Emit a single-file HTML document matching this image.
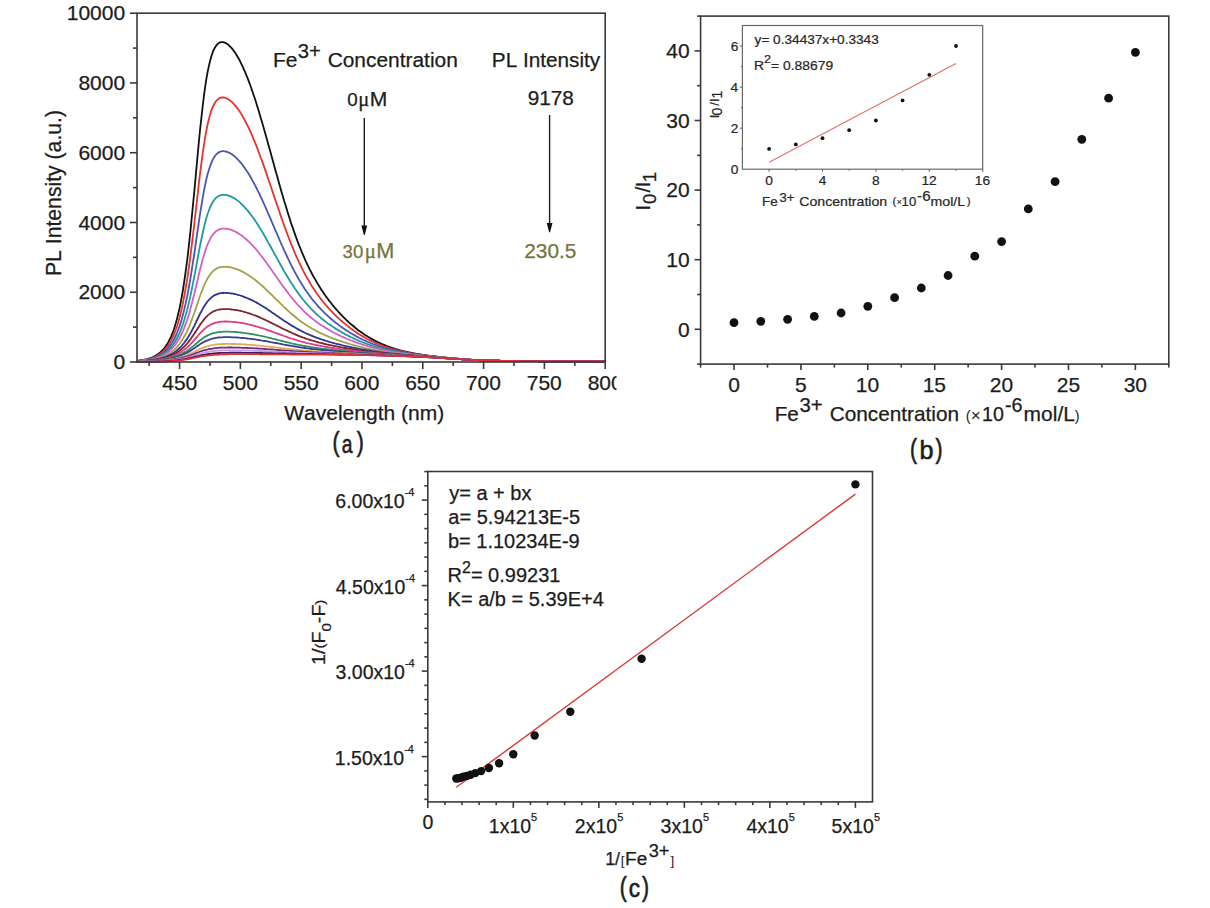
<!DOCTYPE html>
<html><head><meta charset="utf-8"><style>
html,body{margin:0;padding:0;background:#fff;width:1210px;height:908px;overflow:hidden}
svg{display:block}
text{font-family:"Liberation Sans",sans-serif;font-kerning:none}
</style></head><body>
<svg width="1210" height="908" viewBox="0 0 1210 908">
<rect width="1210" height="908" fill="#fff"/>
<defs><clipPath id="clipA"><rect x="0" y="0" width="616.5" height="470"/></clipPath></defs><g clip-path="url(#clipA)">
<g fill="none" stroke-width="1.8" stroke-linejoin="round">
<polyline points="137.0,360.8 138.2,360.7 139.4,360.5 140.6,360.4 141.9,360.2 143.1,360.0 144.3,359.7 145.5,359.5 146.7,359.2 147.9,358.8 149.2,358.5 150.4,358.0 151.6,357.6 152.8,357.1 154.0,356.5 155.2,355.9 156.5,355.1 157.7,354.3 158.9,353.5 160.1,352.5 161.3,351.4 162.5,350.1 163.8,348.8 165.0,347.3 166.2,345.6 167.4,343.7 168.6,341.6 169.8,339.2 171.1,336.6 172.3,333.7 173.5,330.5 174.7,326.8 175.9,322.8 177.1,318.4 178.3,313.5 179.6,308.1 180.8,302.1 182.0,295.5 183.2,288.3 184.4,280.4 185.6,271.8 186.9,262.5 188.1,252.5 189.3,241.7 190.5,230.3 191.7,218.2 192.9,205.7 194.2,192.7 195.4,179.6 196.6,166.3 197.8,153.3 199.0,140.5 200.2,128.3 201.5,116.8 202.7,106.0 203.9,96.2 205.1,87.3 206.3,79.4 207.5,72.5 208.8,66.4 210.0,61.3 211.2,56.9 212.4,53.2 213.6,50.2 214.8,47.8 216.0,45.9 217.3,44.4 218.5,43.3 219.7,42.6 220.9,42.2 222.1,42.1 223.3,42.2 224.6,42.6 225.8,43.1 227.0,43.8 228.2,44.7 229.4,45.8 230.6,47.0 231.9,48.4 233.1,49.9 234.3,51.6 235.5,53.3 236.7,55.3 237.9,57.3 239.2,59.5 240.4,61.9 241.6,64.3 242.8,66.9 244.0,69.6 245.2,72.4 246.4,75.3 247.7,78.4 248.9,81.6 250.1,84.8 251.3,88.2 252.5,91.7 253.7,95.3 255.0,99.0 256.2,102.8 257.4,106.7 258.6,110.6 259.8,114.7 261.0,118.8 262.3,122.9 263.5,127.2 264.7,131.4 265.9,135.7 267.1,140.1 268.3,144.5 269.6,148.9 270.8,153.3 272.0,157.7 273.2,162.1 274.4,166.5 275.6,170.9 276.9,175.3 278.1,179.7 279.3,184.0 280.5,188.2 281.7,192.5 282.9,196.6 284.1,200.8 285.4,204.8 286.6,208.8 287.8,212.7 289.0,216.6 290.2,220.3 291.4,224.0 292.7,227.6 293.9,231.1 295.1,234.6 296.3,237.9 297.5,241.2 298.7,244.4 300.0,247.5 301.2,250.5 302.4,253.4 303.6,256.2 304.8,259.0 306.0,261.7 307.3,264.3 308.5,266.8 309.7,269.3 310.9,271.7 312.1,274.0 313.3,276.2 314.6,278.4 315.8,280.5 317.0,282.6 318.2,284.6 319.4,286.6 320.6,288.5 321.8,290.4 323.1,292.2 324.3,294.0 325.5,295.7 326.7,297.4 327.9,299.0 329.1,300.6 330.4,302.2 331.6,303.7 332.8,305.3 334.0,306.7 335.2,308.2 336.4,309.6 337.7,311.0 338.9,312.3 340.1,313.6 341.3,314.9 342.5,316.2 343.7,317.4 345.0,318.6 346.2,319.8 347.4,320.9 348.6,322.1 349.8,323.2 351.0,324.2 352.3,325.3 353.5,326.3 354.7,327.3 355.9,328.3 357.1,329.2 358.3,330.2 359.5,331.1 360.8,332.0 362.0,332.8 363.2,333.6 364.4,334.5 365.6,335.3 366.8,336.0 368.1,336.8 369.3,337.5 370.5,338.2 371.7,338.9 372.9,339.6 374.1,340.2 375.4,340.9 376.6,341.5 377.8,342.1 379.0,342.7 380.2,343.2 381.4,343.8 382.7,344.3 383.9,344.8 385.1,345.3 386.3,345.8 387.5,346.3 388.7,346.7 389.9,347.2 391.2,347.6 392.4,348.0 393.6,348.4 394.8,348.8 396.0,349.1 397.2,349.5 398.5,349.8 399.7,350.2 400.9,350.5 402.1,350.8 403.3,351.1 404.5,351.4 405.8,351.7 407.0,351.9 408.2,352.2 409.4,352.5 410.6,352.7 411.8,352.9 413.1,353.2 414.3,353.4 415.5,353.6 416.7,353.8 417.9,354.0 419.1,354.2 420.4,354.4 421.6,354.6 422.8,354.8 424.0,354.9 425.2,355.1 426.4,355.3 427.6,355.5 428.9,355.6 430.1,355.8 431.3,355.9 432.5,356.1 433.7,356.2 434.9,356.4 436.2,356.5 437.4,356.7 438.6,356.8 439.8,357.0 441.0,357.1 442.2,357.2 443.5,357.4 444.7,357.5 445.9,357.6 447.1,357.7 448.3,357.9 449.5,358.0 450.8,358.1 452.0,358.2 453.2,358.3 454.4,358.4 455.6,358.5 456.8,358.6 458.1,358.7 459.3,358.8 460.5,358.9 461.7,359.0 462.9,359.1 464.1,359.2 465.3,359.3 466.6,359.4 467.8,359.5 469.0,359.6 470.2,359.6 471.4,359.7 472.6,359.8 473.9,359.9 475.1,360.0 476.3,360.0 477.5,360.1 478.7,360.2 479.9,360.2 481.2,360.3 482.4,360.3 483.6,360.3 484.8,360.4 486.0,360.4 487.2,360.4 488.5,360.5 489.7,360.5 490.9,360.5 492.1,360.6 493.3,360.6 494.5,360.6 495.8,360.7 497.0,360.7 498.2,360.7 499.4,360.7 500.6,360.8 501.8,360.8 503.0,360.8 504.3,360.8 505.5,360.8 506.7,360.9 507.9,360.9 509.1,360.9 510.3,360.9 511.6,360.9 512.8,361.0 514.0,361.0 515.2,361.0 516.4,361.0 517.6,361.0 518.9,361.1 520.1,361.1 521.3,361.1 522.5,361.1 523.7,361.1 524.9,361.1 526.2,361.1 527.4,361.1 528.6,361.2 529.8,361.2 531.0,361.2 532.2,361.2 533.4,361.2 534.7,361.2 535.9,361.2 537.1,361.2 538.3,361.2 539.5,361.3 540.7,361.3 542.0,361.3 543.2,361.3 544.4,361.3 545.6,361.3 546.8,361.3 548.0,361.3 549.3,361.3 550.5,361.3 551.7,361.3 552.9,361.3 554.1,361.3 555.3,361.3 556.6,361.3 557.8,361.3 559.0,361.4 560.2,361.4 561.4,361.4 562.6,361.4 563.9,361.4 565.1,361.4 566.3,361.4 567.5,361.4 568.7,361.4 569.9,361.4 571.1,361.4 572.4,361.4 573.6,361.4 574.8,361.4 576.0,361.4 577.2,361.4 578.4,361.4 579.7,361.4 580.9,361.4 582.1,361.4 583.3,361.4 584.5,361.4 585.7,361.4 587.0,361.4 588.2,361.4 589.4,361.5 590.6,361.5 591.8,361.5 593.0,361.5 594.3,361.5 595.5,361.5 596.7,361.5 597.9,361.5 599.1,361.5 600.3,361.5 601.6,361.5 602.8,361.5 604.0,361.5 605.2,361.5" stroke="#111111"/>
<polyline points="137.0,360.9 138.2,360.8 139.4,360.7 140.6,360.5 141.9,360.3 143.1,360.2 144.3,360.0 145.5,359.7 146.7,359.5 147.9,359.2 149.2,358.9 150.4,358.5 151.6,358.1 152.8,357.7 154.0,357.2 155.2,356.6 156.5,356.0 157.7,355.3 158.9,354.6 160.1,353.7 161.3,352.8 162.5,351.8 163.8,350.7 165.0,349.4 166.2,348.0 167.4,346.4 168.6,344.7 169.8,342.8 171.1,340.6 172.3,338.2 173.5,335.6 174.7,332.7 175.9,329.4 177.1,325.8 178.3,321.9 179.6,317.5 180.8,312.7 182.0,307.4 183.2,301.6 184.4,295.3 185.6,288.5 186.9,281.1 188.1,273.0 189.3,264.4 190.5,255.3 191.7,245.6 192.9,235.5 194.2,225.0 195.4,214.3 196.6,203.5 197.8,192.8 199.0,182.3 200.2,172.1 201.5,162.5 202.7,153.4 203.9,145.1 205.1,137.6 206.3,130.8 207.5,124.8 208.8,119.5 210.0,115.0 211.2,111.1 212.4,107.9 213.6,105.2 214.8,103.0 216.0,101.2 217.3,99.9 218.5,98.8 219.7,98.1 220.9,97.7 222.1,97.5 223.3,97.5 224.6,97.7 225.8,98.0 227.0,98.6 228.2,99.2 229.4,100.0 230.6,101.0 231.9,102.0 233.1,103.2 234.3,104.5 235.5,105.9 236.7,107.4 237.9,109.0 239.2,110.7 240.4,112.6 241.6,114.5 242.8,116.6 244.0,118.7 245.2,121.0 246.4,123.3 247.7,125.8 248.9,128.3 250.1,130.9 251.3,133.6 252.5,136.5 253.7,139.3 255.0,142.3 256.2,145.4 257.4,148.5 258.6,151.7 259.8,155.0 261.0,158.3 262.3,161.6 263.5,165.1 264.7,168.5 265.9,172.1 267.1,175.6 268.3,179.2 269.6,182.8 270.8,186.4 272.0,190.0 273.2,193.6 274.4,197.2 275.6,200.8 276.9,204.4 278.1,208.0 279.3,211.5 280.5,215.1 281.7,218.6 282.9,222.0 284.1,225.4 285.4,228.8 286.6,232.1 287.8,235.3 289.0,238.5 290.2,241.6 291.4,244.7 292.7,247.7 293.9,250.6 295.1,253.5 296.3,256.3 297.5,259.0 298.7,261.6 300.0,264.2 301.2,266.7 302.4,269.2 303.6,271.6 304.8,273.9 306.0,276.1 307.3,278.3 308.5,280.4 309.7,282.5 310.9,284.5 312.1,286.4 313.3,288.3 314.6,290.1 315.8,291.9 317.0,293.7 318.2,295.3 319.4,297.0 320.6,298.6 321.8,300.2 323.1,301.7 324.3,303.2 325.5,304.6 326.7,306.0 327.9,307.4 329.1,308.8 330.4,310.1 331.6,311.4 332.8,312.7 334.0,313.9 335.2,315.1 336.4,316.3 337.7,317.5 338.9,318.6 340.1,319.7 341.3,320.8 342.5,321.8 343.7,322.9 345.0,323.9 346.2,324.9 347.4,325.9 348.6,326.8 349.8,327.8 351.0,328.7 352.3,329.6 353.5,330.4 354.7,331.3 355.9,332.1 357.1,332.9 358.3,333.7 359.5,334.5 360.8,335.2 362.0,335.9 363.2,336.6 364.4,337.3 365.6,338.0 366.8,338.7 368.1,339.3 369.3,339.9 370.5,340.6 371.7,341.1 372.9,341.7 374.1,342.3 375.4,342.8 376.6,343.4 377.8,343.9 379.0,344.4 380.2,344.9 381.4,345.3 382.7,345.8 383.9,346.3 385.1,346.7 386.3,347.1 387.5,347.5 388.7,347.9 389.9,348.3 391.2,348.6 392.4,349.0 393.6,349.3 394.8,349.7 396.0,350.0 397.2,350.3 398.5,350.6 399.7,350.9 400.9,351.2 402.1,351.5 403.3,351.7 404.5,352.0 405.8,352.2 407.0,352.5 408.2,352.7 409.4,352.9 410.6,353.2 411.8,353.4 413.1,353.6 414.3,353.8 415.5,354.0 416.7,354.2 417.9,354.3 419.1,354.5 420.4,354.7 421.6,354.9 422.8,355.0 424.0,355.2 425.2,355.3 426.4,355.5 427.6,355.6 428.9,355.8 430.1,356.0 431.3,356.1 432.5,356.2 433.7,356.4 434.9,356.5 436.2,356.7 437.4,356.8 438.6,356.9 439.8,357.1 441.0,357.2 442.2,357.3 443.5,357.5 444.7,357.6 445.9,357.7 447.1,357.8 448.3,357.9 449.5,358.0 450.8,358.1 452.0,358.2 453.2,358.3 454.4,358.4 455.6,358.5 456.8,358.6 458.1,358.7 459.3,358.8 460.5,358.9 461.7,359.0 462.9,359.1 464.1,359.2 465.3,359.3 466.6,359.4 467.8,359.5 469.0,359.6 470.2,359.7 471.4,359.7 472.6,359.8 473.9,359.9 475.1,360.0 476.3,360.0 477.5,360.1 478.7,360.2 479.9,360.2 481.2,360.3 482.4,360.3 483.6,360.3 484.8,360.4 486.0,360.4 487.2,360.4 488.5,360.5 489.7,360.5 490.9,360.5 492.1,360.6 493.3,360.6 494.5,360.6 495.8,360.7 497.0,360.7 498.2,360.7 499.4,360.7 500.6,360.8 501.8,360.8 503.0,360.8 504.3,360.8 505.5,360.8 506.7,360.9 507.9,360.9 509.1,360.9 510.3,360.9 511.6,360.9 512.8,361.0 514.0,361.0 515.2,361.0 516.4,361.0 517.6,361.0 518.9,361.1 520.1,361.1 521.3,361.1 522.5,361.1 523.7,361.1 524.9,361.1 526.2,361.1 527.4,361.1 528.6,361.2 529.8,361.2 531.0,361.2 532.2,361.2 533.4,361.2 534.7,361.2 535.9,361.2 537.1,361.2 538.3,361.2 539.5,361.3 540.7,361.3 542.0,361.3 543.2,361.3 544.4,361.3 545.6,361.3 546.8,361.3 548.0,361.3 549.3,361.3 550.5,361.3 551.7,361.3 552.9,361.3 554.1,361.3 555.3,361.3 556.6,361.3 557.8,361.3 559.0,361.4 560.2,361.4 561.4,361.4 562.6,361.4 563.9,361.4 565.1,361.4 566.3,361.4 567.5,361.4 568.7,361.4 569.9,361.4 571.1,361.4 572.4,361.4 573.6,361.4 574.8,361.4 576.0,361.4 577.2,361.4 578.4,361.4 579.7,361.4 580.9,361.4 582.1,361.4 583.3,361.4 584.5,361.4 585.7,361.4 587.0,361.4 588.2,361.4 589.4,361.5 590.6,361.5 591.8,361.5 593.0,361.5 594.3,361.5 595.5,361.5 596.7,361.5 597.9,361.5 599.1,361.5 600.3,361.5 601.6,361.5 602.8,361.5 604.0,361.5 605.2,361.5" stroke="#e3342f"/>
<polyline points="137.0,361.0 138.2,360.9 139.4,360.8 140.6,360.7 141.9,360.5 143.1,360.4 144.3,360.2 145.5,360.0 146.7,359.8 147.9,359.5 149.2,359.2 150.4,358.9 151.6,358.6 152.8,358.2 154.0,357.8 155.2,357.3 156.5,356.8 157.7,356.3 158.9,355.6 160.1,355.0 161.3,354.2 162.5,353.4 163.8,352.4 165.0,351.4 166.2,350.3 167.4,349.0 168.6,347.6 169.8,346.1 171.1,344.4 172.3,342.4 173.5,340.3 174.7,338.0 175.9,335.5 177.1,332.6 178.3,329.5 179.6,326.1 180.8,322.4 182.0,318.3 183.2,313.8 184.4,308.9 185.6,303.6 186.9,297.9 188.1,291.7 189.3,285.0 190.5,278.0 191.7,270.5 192.9,262.6 194.2,254.5 195.4,246.2 196.6,237.7 197.8,229.3 199.0,221.0 200.2,212.9 201.5,205.2 202.7,197.9 203.9,191.2 205.1,185.0 206.3,179.5 207.5,174.5 208.8,170.2 210.0,166.4 211.2,163.2 212.4,160.4 213.6,158.1 214.8,156.2 216.0,154.7 217.3,153.5 218.5,152.6 219.7,151.9 220.9,151.5 222.1,151.2 223.3,151.2 224.6,151.3 225.8,151.5 227.0,151.8 228.2,152.3 229.4,152.9 230.6,153.5 231.9,154.3 233.1,155.2 234.3,156.1 235.5,157.2 236.7,158.3 237.9,159.6 239.2,160.9 240.4,162.3 241.6,163.7 242.8,165.3 244.0,166.9 245.2,168.7 246.4,170.5 247.7,172.3 248.9,174.3 250.1,176.3 251.3,178.4 252.5,180.6 253.7,182.8 255.0,185.1 256.2,187.5 257.4,189.9 258.6,192.4 259.8,194.9 261.0,197.5 262.3,200.1 263.5,202.8 264.7,205.5 265.9,208.2 267.1,211.0 268.3,213.8 269.6,216.6 270.8,219.4 272.0,222.3 273.2,225.1 274.4,227.9 275.6,230.8 276.9,233.6 278.1,236.4 279.3,239.3 280.5,242.0 281.7,244.8 282.9,247.5 284.1,250.2 285.4,252.9 286.6,255.5 287.8,258.1 289.0,260.6 290.2,263.1 291.4,265.6 292.7,268.0 293.9,270.3 295.1,272.6 296.3,274.8 297.5,277.0 298.7,279.1 300.0,281.2 301.2,283.2 302.4,285.2 303.6,287.1 304.8,289.0 306.0,290.8 307.3,292.5 308.5,294.2 309.7,295.9 310.9,297.5 312.1,299.1 313.3,300.6 314.6,302.1 315.8,303.5 317.0,304.9 318.2,306.3 319.4,307.6 320.6,308.9 321.8,310.2 323.1,311.4 324.3,312.6 325.5,313.8 326.7,314.9 327.9,316.0 329.1,317.1 330.4,318.2 331.6,319.2 332.8,320.3 334.0,321.3 335.2,322.2 336.4,323.2 337.7,324.1 338.9,325.1 340.1,326.0 341.3,326.8 342.5,327.7 343.7,328.5 345.0,329.4 346.2,330.2 347.4,331.0 348.6,331.8 349.8,332.5 351.0,333.3 352.3,334.0 353.5,334.7 354.7,335.4 355.9,336.1 357.1,336.7 358.3,337.4 359.5,338.0 360.8,338.6 362.0,339.2 363.2,339.8 364.4,340.3 365.6,340.9 366.8,341.4 368.1,342.0 369.3,342.5 370.5,343.0 371.7,343.5 372.9,344.0 374.1,344.4 375.4,344.9 376.6,345.3 377.8,345.8 379.0,346.2 380.2,346.6 381.4,347.0 382.7,347.4 383.9,347.8 385.1,348.1 386.3,348.5 387.5,348.8 388.7,349.1 389.9,349.5 391.2,349.8 392.4,350.1 393.6,350.4 394.8,350.7 396.0,350.9 397.2,351.2 398.5,351.5 399.7,351.7 400.9,351.9 402.1,352.2 403.3,352.4 404.5,352.6 405.8,352.8 407.0,353.1 408.2,353.3 409.4,353.4 410.6,353.6 411.8,353.8 413.1,354.0 414.3,354.2 415.5,354.4 416.7,354.5 417.9,354.7 419.1,354.8 420.4,355.0 421.6,355.1 422.8,355.3 424.0,355.4 425.2,355.6 426.4,355.7 427.6,355.9 428.9,356.0 430.1,356.1 431.3,356.3 432.5,356.4 433.7,356.5 434.9,356.7 436.2,356.8 437.4,356.9 438.6,357.1 439.8,357.2 441.0,357.3 442.2,357.4 443.5,357.5 444.7,357.7 445.9,357.8 447.1,357.9 448.3,358.0 449.5,358.1 450.8,358.2 452.0,358.3 453.2,358.4 454.4,358.5 455.6,358.6 456.8,358.7 458.1,358.8 459.3,358.9 460.5,359.0 461.7,359.1 462.9,359.1 464.1,359.2 465.3,359.3 466.6,359.4 467.8,359.5 469.0,359.6 470.2,359.7 471.4,359.8 472.6,359.8 473.9,359.9 475.1,360.0 476.3,360.1 477.5,360.1 478.7,360.2 479.9,360.2 481.2,360.3 482.4,360.3 483.6,360.4 484.8,360.4 486.0,360.4 487.2,360.5 488.5,360.5 489.7,360.5 490.9,360.5 492.1,360.6 493.3,360.6 494.5,360.6 495.8,360.7 497.0,360.7 498.2,360.7 499.4,360.7 500.6,360.8 501.8,360.8 503.0,360.8 504.3,360.8 505.5,360.8 506.7,360.9 507.9,360.9 509.1,360.9 510.3,360.9 511.6,360.9 512.8,361.0 514.0,361.0 515.2,361.0 516.4,361.0 517.6,361.0 518.9,361.1 520.1,361.1 521.3,361.1 522.5,361.1 523.7,361.1 524.9,361.1 526.2,361.1 527.4,361.1 528.6,361.2 529.8,361.2 531.0,361.2 532.2,361.2 533.4,361.2 534.7,361.2 535.9,361.2 537.1,361.2 538.3,361.2 539.5,361.3 540.7,361.3 542.0,361.3 543.2,361.3 544.4,361.3 545.6,361.3 546.8,361.3 548.0,361.3 549.3,361.3 550.5,361.3 551.7,361.3 552.9,361.3 554.1,361.3 555.3,361.3 556.6,361.3 557.8,361.3 559.0,361.4 560.2,361.4 561.4,361.4 562.6,361.4 563.9,361.4 565.1,361.4 566.3,361.4 567.5,361.4 568.7,361.4 569.9,361.4 571.1,361.4 572.4,361.4 573.6,361.4 574.8,361.4 576.0,361.4 577.2,361.4 578.4,361.4 579.7,361.4 580.9,361.4 582.1,361.4 583.3,361.4 584.5,361.4 585.7,361.4 587.0,361.4 588.2,361.4 589.4,361.5 590.6,361.5 591.8,361.5 593.0,361.5 594.3,361.5 595.5,361.5 596.7,361.5 597.9,361.5 599.1,361.5 600.3,361.5 601.6,361.5 602.8,361.5 604.0,361.5 605.2,361.5" stroke="#4a56b5"/>
<polyline points="137.0,361.1 138.2,361.0 139.4,360.9 140.6,360.8 141.9,360.7 143.1,360.5 144.3,360.4 145.5,360.2 146.7,360.0 147.9,359.8 149.2,359.5 150.4,359.3 151.6,359.0 152.8,358.7 154.0,358.3 155.2,357.9 156.5,357.5 157.7,357.0 158.9,356.5 160.1,356.0 161.3,355.3 162.5,354.6 163.8,353.9 165.0,353.0 166.2,352.1 167.4,351.1 168.6,350.0 169.8,348.7 171.1,347.3 172.3,345.8 173.5,344.1 174.7,342.3 175.9,340.2 177.1,338.0 178.3,335.5 179.6,332.8 180.8,329.9 182.0,326.7 183.2,323.2 184.4,319.4 185.6,315.3 186.9,310.9 188.1,306.1 189.3,300.9 190.5,295.5 191.7,289.7 192.9,283.6 194.2,277.3 195.4,270.8 196.6,264.3 197.8,257.7 199.0,251.2 200.2,244.8 201.5,238.7 202.7,233.0 203.9,227.6 205.1,222.7 206.3,218.2 207.5,214.2 208.8,210.7 210.0,207.6 211.2,205.0 212.4,202.7 213.6,200.8 214.8,199.2 216.0,197.9 217.3,196.9 218.5,196.1 219.7,195.5 220.9,195.1 222.1,194.9 223.3,194.8 224.6,194.8 225.8,194.9 227.0,195.2 228.2,195.5 229.4,195.9 230.6,196.4 231.9,197.0 233.1,197.6 234.3,198.3 235.5,199.1 236.7,200.0 237.9,200.9 239.2,201.9 240.4,202.9 241.6,204.1 242.8,205.2 244.0,206.5 245.2,207.8 246.4,209.2 247.7,210.6 248.9,212.1 250.1,213.7 251.3,215.3 252.5,216.9 253.7,218.6 255.0,220.4 256.2,222.2 257.4,224.1 258.6,226.0 259.8,227.9 261.0,229.9 262.3,232.0 263.5,234.0 264.7,236.1 265.9,238.3 267.1,240.4 268.3,242.6 269.6,244.8 270.8,247.0 272.0,249.2 273.2,251.4 274.4,253.6 275.6,255.8 276.9,258.1 278.1,260.3 279.3,262.5 280.5,264.7 281.7,266.8 282.9,269.0 284.1,271.1 285.4,273.2 286.6,275.3 287.8,277.3 289.0,279.3 290.2,281.3 291.4,283.2 292.7,285.1 293.9,286.9 295.1,288.8 296.3,290.5 297.5,292.3 298.7,294.0 300.0,295.6 301.2,297.2 302.4,298.8 303.6,300.3 304.8,301.8 306.0,303.2 307.3,304.6 308.5,306.0 309.7,307.3 310.9,308.6 312.1,309.8 313.3,311.0 314.6,312.2 315.8,313.4 317.0,314.5 318.2,315.6 319.4,316.6 320.6,317.7 321.8,318.7 323.1,319.7 324.3,320.6 325.5,321.6 326.7,322.5 327.9,323.4 329.1,324.2 330.4,325.1 331.6,325.9 332.8,326.8 334.0,327.6 335.2,328.4 336.4,329.1 337.7,329.9 338.9,330.6 340.1,331.3 341.3,332.1 342.5,332.7 343.7,333.4 345.0,334.1 346.2,334.7 347.4,335.4 348.6,336.0 349.8,336.6 351.0,337.2 352.3,337.8 353.5,338.4 354.7,338.9 355.9,339.5 357.1,340.0 358.3,340.5 359.5,341.1 360.8,341.6 362.0,342.0 363.2,342.5 364.4,343.0 365.6,343.4 366.8,343.9 368.1,344.3 369.3,344.7 370.5,345.2 371.7,345.6 372.9,346.0 374.1,346.3 375.4,346.7 376.6,347.1 377.8,347.4 379.0,347.8 380.2,348.1 381.4,348.5 382.7,348.8 383.9,349.1 385.1,349.4 386.3,349.7 387.5,350.0 388.7,350.3 389.9,350.5 391.2,350.8 392.4,351.0 393.6,351.3 394.8,351.5 396.0,351.8 397.2,352.0 398.5,352.2 399.7,352.4 400.9,352.6 402.1,352.8 403.3,353.0 404.5,353.2 405.8,353.4 407.0,353.6 408.2,353.7 409.4,353.9 410.6,354.1 411.8,354.2 413.1,354.4 414.3,354.6 415.5,354.7 416.7,354.9 417.9,355.0 419.1,355.1 420.4,355.3 421.6,355.4 422.8,355.5 424.0,355.7 425.2,355.8 426.4,355.9 427.6,356.1 428.9,356.2 430.1,356.3 431.3,356.4 432.5,356.6 433.7,356.7 434.9,356.8 436.2,356.9 437.4,357.1 438.6,357.2 439.8,357.3 441.0,357.4 442.2,357.5 443.5,357.6 444.7,357.7 445.9,357.9 447.1,358.0 448.3,358.1 449.5,358.2 450.8,358.3 452.0,358.3 453.2,358.4 454.4,358.5 455.6,358.6 456.8,358.7 458.1,358.8 459.3,358.9 460.5,359.0 461.7,359.1 462.9,359.2 464.1,359.3 465.3,359.4 466.6,359.4 467.8,359.5 469.0,359.6 470.2,359.7 471.4,359.8 472.6,359.9 473.9,359.9 475.1,360.0 476.3,360.1 477.5,360.1 478.7,360.2 479.9,360.2 481.2,360.3 482.4,360.3 483.6,360.4 484.8,360.4 486.0,360.4 487.2,360.5 488.5,360.5 489.7,360.5 490.9,360.6 492.1,360.6 493.3,360.6 494.5,360.6 495.8,360.7 497.0,360.7 498.2,360.7 499.4,360.7 500.6,360.8 501.8,360.8 503.0,360.8 504.3,360.8 505.5,360.9 506.7,360.9 507.9,360.9 509.1,360.9 510.3,360.9 511.6,360.9 512.8,361.0 514.0,361.0 515.2,361.0 516.4,361.0 517.6,361.0 518.9,361.1 520.1,361.1 521.3,361.1 522.5,361.1 523.7,361.1 524.9,361.1 526.2,361.1 527.4,361.1 528.6,361.2 529.8,361.2 531.0,361.2 532.2,361.2 533.4,361.2 534.7,361.2 535.9,361.2 537.1,361.2 538.3,361.2 539.5,361.3 540.7,361.3 542.0,361.3 543.2,361.3 544.4,361.3 545.6,361.3 546.8,361.3 548.0,361.3 549.3,361.3 550.5,361.3 551.7,361.3 552.9,361.3 554.1,361.3 555.3,361.3 556.6,361.3 557.8,361.3 559.0,361.4 560.2,361.4 561.4,361.4 562.6,361.4 563.9,361.4 565.1,361.4 566.3,361.4 567.5,361.4 568.7,361.4 569.9,361.4 571.1,361.4 572.4,361.4 573.6,361.4 574.8,361.4 576.0,361.4 577.2,361.4 578.4,361.4 579.7,361.4 580.9,361.4 582.1,361.4 583.3,361.4 584.5,361.4 585.7,361.4 587.0,361.4 588.2,361.4 589.4,361.5 590.6,361.5 591.8,361.5 593.0,361.5 594.3,361.5 595.5,361.5 596.7,361.5 597.9,361.5 599.1,361.5 600.3,361.5 601.6,361.5 602.8,361.5 604.0,361.5 605.2,361.5" stroke="#1f9a9a"/>
<polyline points="137.0,361.2 138.2,361.1 139.4,361.0 140.6,360.9 141.9,360.8 143.1,360.7 144.3,360.5 145.5,360.4 146.7,360.2 147.9,360.0 149.2,359.8 150.4,359.6 151.6,359.3 152.8,359.1 154.0,358.8 155.2,358.4 156.5,358.1 157.7,357.7 158.9,357.2 160.1,356.8 161.3,356.2 162.5,355.6 163.8,355.0 165.0,354.3 166.2,353.6 167.4,352.7 168.6,351.8 169.8,350.8 171.1,349.6 172.3,348.4 173.5,347.0 174.7,345.5 175.9,343.9 177.1,342.1 178.3,340.1 179.6,338.0 180.8,335.7 182.0,333.1 183.2,330.4 184.4,327.4 185.6,324.1 186.9,320.7 188.1,316.9 189.3,312.9 190.5,308.6 191.7,304.1 192.9,299.3 194.2,294.4 195.4,289.3 196.6,284.2 197.8,279.0 199.0,273.9 200.2,268.9 201.5,264.1 202.7,259.6 203.9,255.3 205.1,251.4 206.3,247.8 207.5,244.6 208.8,241.8 210.0,239.3 211.2,237.1 212.4,235.3 213.6,233.7 214.8,232.4 216.0,231.3 217.3,230.5 218.5,229.8 219.7,229.3 220.9,228.9 222.1,228.7 223.3,228.6 224.6,228.6 225.8,228.7 227.0,228.8 228.2,229.1 229.4,229.4 230.6,229.7 231.9,230.1 233.1,230.6 234.3,231.2 235.5,231.8 236.7,232.4 237.9,233.1 239.2,233.9 240.4,234.7 241.6,235.5 242.8,236.5 244.0,237.4 245.2,238.4 246.4,239.5 247.7,240.6 248.9,241.7 250.1,242.9 251.3,244.2 252.5,245.4 253.7,246.8 255.0,248.1 256.2,249.5 257.4,251.0 258.6,252.5 259.8,254.0 261.0,255.5 262.3,257.1 263.5,258.7 264.7,260.4 265.9,262.0 267.1,263.7 268.3,265.4 269.6,267.1 270.8,268.8 272.0,270.5 273.2,272.3 274.4,274.0 275.6,275.8 276.9,277.5 278.1,279.2 279.3,281.0 280.5,282.7 281.7,284.4 282.9,286.1 284.1,287.7 285.4,289.4 286.6,291.0 287.8,292.6 289.0,294.2 290.2,295.8 291.4,297.3 292.7,298.8 293.9,300.3 295.1,301.7 296.3,303.1 297.5,304.5 298.7,305.8 300.0,307.2 301.2,308.4 302.4,309.7 303.6,310.9 304.8,312.1 306.0,313.2 307.3,314.3 308.5,315.4 309.7,316.5 310.9,317.5 312.1,318.5 313.3,319.4 314.6,320.4 315.8,321.3 317.0,322.2 318.2,323.1 319.4,323.9 320.6,324.8 321.8,325.6 323.1,326.3 324.3,327.1 325.5,327.9 326.7,328.6 327.9,329.3 329.1,330.0 330.4,330.7 331.6,331.4 332.8,332.0 334.0,332.7 335.2,333.3 336.4,333.9 337.7,334.5 338.9,335.1 340.1,335.7 341.3,336.3 342.5,336.9 343.7,337.4 345.0,337.9 346.2,338.5 347.4,339.0 348.6,339.5 349.8,340.0 351.0,340.5 352.3,340.9 353.5,341.4 354.7,341.9 355.9,342.3 357.1,342.7 358.3,343.2 359.5,343.6 360.8,344.0 362.0,344.4 363.2,344.8 364.4,345.2 365.6,345.5 366.8,345.9 368.1,346.3 369.3,346.6 370.5,346.9 371.7,347.3 372.9,347.6 374.1,347.9 375.4,348.2 376.6,348.5 377.8,348.8 379.0,349.1 380.2,349.4 381.4,349.7 382.7,350.0 383.9,350.2 385.1,350.5 386.3,350.7 387.5,351.0 388.7,351.2 389.9,351.4 391.2,351.6 392.4,351.9 393.6,352.1 394.8,352.3 396.0,352.5 397.2,352.7 398.5,352.8 399.7,353.0 400.9,353.2 402.1,353.4 403.3,353.5 404.5,353.7 405.8,353.9 407.0,354.0 408.2,354.2 409.4,354.3 410.6,354.5 411.8,354.6 413.1,354.8 414.3,354.9 415.5,355.0 416.7,355.1 417.9,355.3 419.1,355.4 420.4,355.5 421.6,355.6 422.8,355.8 424.0,355.9 425.2,356.0 426.4,356.1 427.6,356.2 428.9,356.4 430.1,356.5 431.3,356.6 432.5,356.7 433.7,356.8 434.9,356.9 436.2,357.1 437.4,357.2 438.6,357.3 439.8,357.4 441.0,357.5 442.2,357.6 443.5,357.7 444.7,357.8 445.9,357.9 447.1,358.0 448.3,358.1 449.5,358.2 450.8,358.3 452.0,358.4 453.2,358.5 454.4,358.6 455.6,358.7 456.8,358.8 458.1,358.8 459.3,358.9 460.5,359.0 461.7,359.1 462.9,359.2 464.1,359.3 465.3,359.4 466.6,359.5 467.8,359.6 469.0,359.6 470.2,359.7 471.4,359.8 472.6,359.9 473.9,359.9 475.1,360.0 476.3,360.1 477.5,360.1 478.7,360.2 479.9,360.2 481.2,360.3 482.4,360.3 483.6,360.4 484.8,360.4 486.0,360.4 487.2,360.5 488.5,360.5 489.7,360.5 490.9,360.6 492.1,360.6 493.3,360.6 494.5,360.6 495.8,360.7 497.0,360.7 498.2,360.7 499.4,360.7 500.6,360.8 501.8,360.8 503.0,360.8 504.3,360.8 505.5,360.9 506.7,360.9 507.9,360.9 509.1,360.9 510.3,360.9 511.6,361.0 512.8,361.0 514.0,361.0 515.2,361.0 516.4,361.0 517.6,361.0 518.9,361.1 520.1,361.1 521.3,361.1 522.5,361.1 523.7,361.1 524.9,361.1 526.2,361.1 527.4,361.1 528.6,361.2 529.8,361.2 531.0,361.2 532.2,361.2 533.4,361.2 534.7,361.2 535.9,361.2 537.1,361.2 538.3,361.2 539.5,361.3 540.7,361.3 542.0,361.3 543.2,361.3 544.4,361.3 545.6,361.3 546.8,361.3 548.0,361.3 549.3,361.3 550.5,361.3 551.7,361.3 552.9,361.3 554.1,361.3 555.3,361.3 556.6,361.3 557.8,361.3 559.0,361.4 560.2,361.4 561.4,361.4 562.6,361.4 563.9,361.4 565.1,361.4 566.3,361.4 567.5,361.4 568.7,361.4 569.9,361.4 571.1,361.4 572.4,361.4 573.6,361.4 574.8,361.4 576.0,361.4 577.2,361.4 578.4,361.4 579.7,361.4 580.9,361.4 582.1,361.4 583.3,361.4 584.5,361.4 585.7,361.4 587.0,361.4 588.2,361.4 589.4,361.5 590.6,361.5 591.8,361.5 593.0,361.5 594.3,361.5 595.5,361.5 596.7,361.5 597.9,361.5 599.1,361.5 600.3,361.5 601.6,361.5 602.8,361.5 604.0,361.5 605.2,361.5" stroke="#d35fc0"/>
<polyline points="137.0,361.3 138.2,361.2 139.4,361.1 140.6,361.0 141.9,360.9 143.1,360.8 144.3,360.7 145.5,360.6 146.7,360.5 147.9,360.3 149.2,360.1 150.4,360.0 151.6,359.8 152.8,359.5 154.0,359.3 155.2,359.0 156.5,358.8 157.7,358.4 158.9,358.1 160.1,357.7 161.3,357.3 162.5,356.9 163.8,356.4 165.0,355.9 166.2,355.3 167.4,354.7 168.6,354.0 169.8,353.2 171.1,352.4 172.3,351.4 173.5,350.4 174.7,349.3 175.9,348.1 177.1,346.8 178.3,345.4 179.6,343.8 180.8,342.2 182.0,340.4 183.2,338.4 184.4,336.3 185.6,334.0 186.9,331.6 188.1,329.0 189.3,326.1 190.5,323.1 191.7,320.0 192.9,316.7 194.2,313.3 195.4,309.7 196.6,306.2 197.8,302.6 199.0,299.0 200.2,295.5 201.5,292.2 202.7,289.0 203.9,286.0 205.1,283.3 206.3,280.8 207.5,278.5 208.8,276.5 210.0,274.7 211.2,273.1 212.4,271.8 213.6,270.6 214.8,269.7 216.0,268.9 217.3,268.2 218.5,267.7 219.7,267.4 220.9,267.1 222.1,266.9 223.3,266.8 224.6,266.8 225.8,266.8 227.0,266.9 228.2,267.0 229.4,267.2 230.6,267.4 231.9,267.7 233.1,268.0 234.3,268.4 235.5,268.8 236.7,269.2 237.9,269.7 239.2,270.2 240.4,270.7 241.6,271.3 242.8,271.9 244.0,272.6 245.2,273.2 246.4,274.0 247.7,274.7 248.9,275.5 250.1,276.3 251.3,277.1 252.5,278.0 253.7,278.9 255.0,279.8 256.2,280.8 257.4,281.8 258.6,282.8 259.8,283.8 261.0,284.9 262.3,286.0 263.5,287.0 264.7,288.2 265.9,289.3 267.1,290.5 268.3,291.6 269.6,292.8 270.8,294.0 272.0,295.2 273.2,296.4 274.4,297.6 275.6,298.8 276.9,300.0 278.1,301.2 279.3,302.4 280.5,303.6 281.7,304.7 282.9,305.9 284.1,307.1 285.4,308.2 286.6,309.4 287.8,310.5 289.0,311.6 290.2,312.7 291.4,313.8 292.7,314.8 293.9,315.8 295.1,316.8 296.3,317.8 297.5,318.8 298.7,319.7 300.0,320.7 301.2,321.6 302.4,322.4 303.6,323.3 304.8,324.1 306.0,324.9 307.3,325.7 308.5,326.5 309.7,327.2 310.9,327.9 312.1,328.7 313.3,329.3 314.6,330.0 315.8,330.7 317.0,331.3 318.2,331.9 319.4,332.5 320.6,333.1 321.8,333.7 323.1,334.2 324.3,334.8 325.5,335.3 326.7,335.8 327.9,336.4 329.1,336.9 330.4,337.3 331.6,337.8 332.8,338.3 334.0,338.8 335.2,339.2 336.4,339.7 337.7,340.1 338.9,340.5 340.1,340.9 341.3,341.4 342.5,341.8 343.7,342.2 345.0,342.5 346.2,342.9 347.4,343.3 348.6,343.7 349.8,344.0 351.0,344.4 352.3,344.7 353.5,345.1 354.7,345.4 355.9,345.7 357.1,346.0 358.3,346.3 359.5,346.6 360.8,346.9 362.0,347.2 363.2,347.5 364.4,347.8 365.6,348.1 366.8,348.3 368.1,348.6 369.3,348.9 370.5,349.1 371.7,349.4 372.9,349.6 374.1,349.8 375.4,350.1 376.6,350.3 377.8,350.5 379.0,350.8 380.2,351.0 381.4,351.2 382.7,351.4 383.9,351.6 385.1,351.8 386.3,352.0 387.5,352.2 388.7,352.3 389.9,352.5 391.2,352.7 392.4,352.9 393.6,353.0 394.8,353.2 396.0,353.3 397.2,353.5 398.5,353.6 399.7,353.8 400.9,353.9 402.1,354.1 403.3,354.2 404.5,354.3 405.8,354.5 407.0,354.6 408.2,354.7 409.4,354.8 410.6,354.9 411.8,355.1 413.1,355.2 414.3,355.3 415.5,355.4 416.7,355.5 417.9,355.6 419.1,355.7 420.4,355.8 421.6,355.9 422.8,356.0 424.0,356.1 425.2,356.3 426.4,356.4 427.6,356.5 428.9,356.6 430.1,356.7 431.3,356.8 432.5,356.9 433.7,357.0 434.9,357.1 436.2,357.2 437.4,357.3 438.6,357.4 439.8,357.5 441.0,357.6 442.2,357.7 443.5,357.8 444.7,357.9 445.9,358.0 447.1,358.1 448.3,358.2 449.5,358.3 450.8,358.4 452.0,358.5 453.2,358.5 454.4,358.6 455.6,358.7 456.8,358.8 458.1,358.9 459.3,359.0 460.5,359.1 461.7,359.2 462.9,359.2 464.1,359.3 465.3,359.4 466.6,359.5 467.8,359.6 469.0,359.7 470.2,359.7 471.4,359.8 472.6,359.9 473.9,360.0 475.1,360.0 476.3,360.1 477.5,360.2 478.7,360.2 479.9,360.3 481.2,360.3 482.4,360.3 483.6,360.4 484.8,360.4 486.0,360.4 487.2,360.5 488.5,360.5 489.7,360.5 490.9,360.6 492.1,360.6 493.3,360.6 494.5,360.6 495.8,360.7 497.0,360.7 498.2,360.7 499.4,360.7 500.6,360.8 501.8,360.8 503.0,360.8 504.3,360.8 505.5,360.9 506.7,360.9 507.9,360.9 509.1,360.9 510.3,360.9 511.6,361.0 512.8,361.0 514.0,361.0 515.2,361.0 516.4,361.0 517.6,361.0 518.9,361.1 520.1,361.1 521.3,361.1 522.5,361.1 523.7,361.1 524.9,361.1 526.2,361.1 527.4,361.2 528.6,361.2 529.8,361.2 531.0,361.2 532.2,361.2 533.4,361.2 534.7,361.2 535.9,361.2 537.1,361.2 538.3,361.2 539.5,361.3 540.7,361.3 542.0,361.3 543.2,361.3 544.4,361.3 545.6,361.3 546.8,361.3 548.0,361.3 549.3,361.3 550.5,361.3 551.7,361.3 552.9,361.3 554.1,361.3 555.3,361.3 556.6,361.3 557.8,361.3 559.0,361.4 560.2,361.4 561.4,361.4 562.6,361.4 563.9,361.4 565.1,361.4 566.3,361.4 567.5,361.4 568.7,361.4 569.9,361.4 571.1,361.4 572.4,361.4 573.6,361.4 574.8,361.4 576.0,361.4 577.2,361.4 578.4,361.4 579.7,361.4 580.9,361.4 582.1,361.4 583.3,361.4 584.5,361.4 585.7,361.4 587.0,361.4 588.2,361.4 589.4,361.5 590.6,361.5 591.8,361.5 593.0,361.5 594.3,361.5 595.5,361.5 596.7,361.5 597.9,361.5 599.1,361.5 600.3,361.5 601.6,361.5 602.8,361.5 604.0,361.5 605.2,361.5" stroke="#a3a04a"/>
<polyline points="137.0,361.3 138.2,361.3 139.4,361.2 140.6,361.1 141.9,361.1 143.1,361.0 144.3,360.9 145.5,360.8 146.7,360.7 147.9,360.5 149.2,360.4 150.4,360.3 151.6,360.1 152.8,359.9 154.0,359.7 155.2,359.5 156.5,359.3 157.7,359.0 158.9,358.8 160.1,358.5 161.3,358.2 162.5,357.8 163.8,357.4 165.0,357.0 166.2,356.6 167.4,356.1 168.6,355.6 169.8,355.0 171.1,354.4 172.3,353.7 173.5,352.9 174.7,352.1 175.9,351.2 177.1,350.2 178.3,349.1 179.6,348.0 180.8,346.8 182.0,345.5 183.2,344.0 184.4,342.5 185.6,340.9 186.9,339.1 188.1,337.2 189.3,335.2 190.5,333.1 191.7,330.8 192.9,328.5 194.2,326.1 195.4,323.6 196.6,321.0 197.8,318.5 199.0,316.0 200.2,313.5 201.5,311.2 202.7,308.9 203.9,306.8 205.1,304.9 206.3,303.1 207.5,301.5 208.8,300.0 210.0,298.8 211.2,297.6 212.4,296.7 213.6,295.8 214.8,295.1 216.0,294.6 217.3,294.1 218.5,293.7 219.7,293.4 220.9,293.2 222.1,293.0 223.3,293.0 224.6,292.9 225.8,292.9 227.0,293.0 228.2,293.1 229.4,293.2 230.6,293.3 231.9,293.5 233.1,293.7 234.3,294.0 235.5,294.2 236.7,294.5 237.9,294.8 239.2,295.2 240.4,295.5 241.6,295.9 242.8,296.4 244.0,296.8 245.2,297.3 246.4,297.7 247.7,298.3 248.9,298.8 250.1,299.3 251.3,299.9 252.5,300.5 253.7,301.1 255.0,301.8 256.2,302.4 257.4,303.1 258.6,303.8 259.8,304.5 261.0,305.3 262.3,306.0 263.5,306.8 264.7,307.5 265.9,308.3 267.1,309.1 268.3,309.9 269.6,310.7 270.8,311.6 272.0,312.4 273.2,313.2 274.4,314.0 275.6,314.9 276.9,315.7 278.1,316.6 279.3,317.4 280.5,318.2 281.7,319.1 282.9,319.9 284.1,320.7 285.4,321.5 286.6,322.3 287.8,323.1 289.0,323.9 290.2,324.6 291.4,325.4 292.7,326.1 293.9,326.8 295.1,327.5 296.3,328.2 297.5,328.9 298.7,329.6 300.0,330.2 301.2,330.9 302.4,331.5 303.6,332.1 304.8,332.7 306.0,333.3 307.3,333.8 308.5,334.4 309.7,334.9 310.9,335.4 312.1,335.9 313.3,336.4 314.6,336.9 315.8,337.3 317.0,337.8 318.2,338.2 319.4,338.7 320.6,339.1 321.8,339.5 323.1,339.9 324.3,340.3 325.5,340.7 326.7,341.0 327.9,341.4 329.1,341.8 330.4,342.1 331.6,342.5 332.8,342.8 334.0,343.1 335.2,343.5 336.4,343.8 337.7,344.1 338.9,344.4 340.1,344.7 341.3,345.0 342.5,345.3 343.7,345.6 345.0,345.9 346.2,346.1 347.4,346.4 348.6,346.7 349.8,347.0 351.0,347.2 352.3,347.5 353.5,347.7 354.7,347.9 355.9,348.2 357.1,348.4 358.3,348.6 359.5,348.9 360.8,349.1 362.0,349.3 363.2,349.5 364.4,349.7 365.6,349.9 366.8,350.1 368.1,350.3 369.3,350.5 370.5,350.7 371.7,350.9 372.9,351.1 374.1,351.3 375.4,351.4 376.6,351.6 377.8,351.8 379.0,352.0 380.2,352.1 381.4,352.3 382.7,352.5 383.9,352.6 385.1,352.8 386.3,352.9 387.5,353.1 388.7,353.2 389.9,353.3 391.2,353.5 392.4,353.6 393.6,353.7 394.8,353.9 396.0,354.0 397.2,354.1 398.5,354.2 399.7,354.4 400.9,354.5 402.1,354.6 403.3,354.7 404.5,354.8 405.8,354.9 407.0,355.0 408.2,355.1 409.4,355.2 410.6,355.3 411.8,355.4 413.1,355.5 414.3,355.6 415.5,355.7 416.7,355.8 417.9,355.9 419.1,356.0 420.4,356.1 421.6,356.2 422.8,356.3 424.0,356.4 425.2,356.4 426.4,356.5 427.6,356.6 428.9,356.7 430.1,356.8 431.3,356.9 432.5,357.0 433.7,357.1 434.9,357.2 436.2,357.3 437.4,357.4 438.6,357.5 439.8,357.6 441.0,357.7 442.2,357.8 443.5,357.9 444.7,358.0 445.9,358.1 447.1,358.2 448.3,358.3 449.5,358.3 450.8,358.4 452.0,358.5 453.2,358.6 454.4,358.7 455.6,358.8 456.8,358.8 458.1,358.9 459.3,359.0 460.5,359.1 461.7,359.2 462.9,359.3 464.1,359.4 465.3,359.4 466.6,359.5 467.8,359.6 469.0,359.7 470.2,359.8 471.4,359.8 472.6,359.9 473.9,360.0 475.1,360.0 476.3,360.1 477.5,360.2 478.7,360.2 479.9,360.3 481.2,360.3 482.4,360.4 483.6,360.4 484.8,360.4 486.0,360.5 487.2,360.5 488.5,360.5 489.7,360.5 490.9,360.6 492.1,360.6 493.3,360.6 494.5,360.6 495.8,360.7 497.0,360.7 498.2,360.7 499.4,360.7 500.6,360.8 501.8,360.8 503.0,360.8 504.3,360.8 505.5,360.9 506.7,360.9 507.9,360.9 509.1,360.9 510.3,360.9 511.6,361.0 512.8,361.0 514.0,361.0 515.2,361.0 516.4,361.0 517.6,361.0 518.9,361.1 520.1,361.1 521.3,361.1 522.5,361.1 523.7,361.1 524.9,361.1 526.2,361.1 527.4,361.2 528.6,361.2 529.8,361.2 531.0,361.2 532.2,361.2 533.4,361.2 534.7,361.2 535.9,361.2 537.1,361.2 538.3,361.2 539.5,361.3 540.7,361.3 542.0,361.3 543.2,361.3 544.4,361.3 545.6,361.3 546.8,361.3 548.0,361.3 549.3,361.3 550.5,361.3 551.7,361.3 552.9,361.3 554.1,361.3 555.3,361.3 556.6,361.3 557.8,361.3 559.0,361.4 560.2,361.4 561.4,361.4 562.6,361.4 563.9,361.4 565.1,361.4 566.3,361.4 567.5,361.4 568.7,361.4 569.9,361.4 571.1,361.4 572.4,361.4 573.6,361.4 574.8,361.4 576.0,361.4 577.2,361.4 578.4,361.4 579.7,361.4 580.9,361.4 582.1,361.4 583.3,361.4 584.5,361.4 585.7,361.4 587.0,361.4 588.2,361.4 589.4,361.5 590.6,361.5 591.8,361.5 593.0,361.5 594.3,361.5 595.5,361.5 596.7,361.5 597.9,361.5 599.1,361.5 600.3,361.5 601.6,361.5 602.8,361.5 604.0,361.5 605.2,361.5" stroke="#2f3590"/>
<polyline points="137.0,361.4 138.2,361.4 139.4,361.3 140.6,361.2 141.9,361.2 143.1,361.1 144.3,361.0 145.5,360.9 146.7,360.8 147.9,360.7 149.2,360.6 150.4,360.5 151.6,360.4 152.8,360.2 154.0,360.0 155.2,359.9 156.5,359.7 157.7,359.5 158.9,359.2 160.1,359.0 161.3,358.7 162.5,358.5 163.8,358.2 165.0,357.8 166.2,357.5 167.4,357.1 168.6,356.7 169.8,356.2 171.1,355.7 172.3,355.1 173.5,354.5 174.7,353.9 175.9,353.2 177.1,352.4 178.3,351.6 179.6,350.7 180.8,349.8 182.0,348.7 183.2,347.6 184.4,346.5 185.6,345.2 186.9,343.9 188.1,342.5 189.3,340.9 190.5,339.3 191.7,337.6 192.9,335.8 194.2,334.0 195.4,332.1 196.6,330.2 197.8,328.3 199.0,326.4 200.2,324.6 201.5,322.8 202.7,321.2 203.9,319.6 205.1,318.2 206.3,316.9 207.5,315.6 208.8,314.6 210.0,313.6 211.2,312.7 212.4,312.0 213.6,311.4 214.8,310.8 216.0,310.4 217.3,310.0 218.5,309.7 219.7,309.5 220.9,309.3 222.1,309.2 223.3,309.1 224.6,309.1 225.8,309.1 227.0,309.1 228.2,309.2 229.4,309.2 230.6,309.3 231.9,309.5 233.1,309.6 234.3,309.8 235.5,310.0 236.7,310.2 237.9,310.4 239.2,310.6 240.4,310.9 241.6,311.2 242.8,311.5 244.0,311.8 245.2,312.2 246.4,312.5 247.7,312.9 248.9,313.3 250.1,313.7 251.3,314.1 252.5,314.5 253.7,315.0 255.0,315.4 256.2,315.9 257.4,316.4 258.6,316.9 259.8,317.4 261.0,318.0 262.3,318.5 263.5,319.1 264.7,319.6 265.9,320.2 267.1,320.8 268.3,321.4 269.6,322.0 270.8,322.6 272.0,323.2 273.2,323.8 274.4,324.4 275.6,325.0 276.9,325.6 278.1,326.2 279.3,326.8 280.5,327.5 281.7,328.1 282.9,328.7 284.1,329.3 285.4,329.9 286.6,330.4 287.8,331.0 289.0,331.6 290.2,332.2 291.4,332.7 292.7,333.3 293.9,333.8 295.1,334.3 296.3,334.8 297.5,335.3 298.7,335.8 300.0,336.3 301.2,336.8 302.4,337.3 303.6,337.7 304.8,338.1 306.0,338.6 307.3,339.0 308.5,339.4 309.7,339.8 310.9,340.2 312.1,340.5 313.3,340.9 314.6,341.2 315.8,341.6 317.0,341.9 318.2,342.3 319.4,342.6 320.6,342.9 321.8,343.2 323.1,343.5 324.3,343.8 325.5,344.1 326.7,344.4 327.9,344.6 329.1,344.9 330.4,345.2 331.6,345.4 332.8,345.7 334.0,346.0 335.2,346.2 336.4,346.4 337.7,346.7 338.9,346.9 340.1,347.1 341.3,347.4 342.5,347.6 343.7,347.8 345.0,348.0 346.2,348.2 347.4,348.4 348.6,348.7 349.8,348.9 351.0,349.0 352.3,349.2 353.5,349.4 354.7,349.6 355.9,349.8 357.1,350.0 358.3,350.2 359.5,350.3 360.8,350.5 362.0,350.7 363.2,350.8 364.4,351.0 365.6,351.1 366.8,351.3 368.1,351.5 369.3,351.6 370.5,351.8 371.7,351.9 372.9,352.1 374.1,352.2 375.4,352.4 376.6,352.5 377.8,352.6 379.0,352.8 380.2,352.9 381.4,353.0 382.7,353.2 383.9,353.3 385.1,353.4 386.3,353.5 387.5,353.7 388.7,353.8 389.9,353.9 391.2,354.0 392.4,354.1 393.6,354.2 394.8,354.3 396.0,354.4 397.2,354.5 398.5,354.6 399.7,354.7 400.9,354.8 402.1,354.9 403.3,355.0 404.5,355.1 405.8,355.2 407.0,355.3 408.2,355.4 409.4,355.5 410.6,355.6 411.8,355.7 413.1,355.7 414.3,355.8 415.5,355.9 416.7,356.0 417.9,356.1 419.1,356.2 420.4,356.2 421.6,356.3 422.8,356.4 424.0,356.5 425.2,356.6 426.4,356.7 427.6,356.8 428.9,356.8 430.1,356.9 431.3,357.0 432.5,357.1 433.7,357.2 434.9,357.3 436.2,357.4 437.4,357.5 438.6,357.6 439.8,357.7 441.0,357.8 442.2,357.9 443.5,358.0 444.7,358.0 445.9,358.1 447.1,358.2 448.3,358.3 449.5,358.4 450.8,358.5 452.0,358.6 453.2,358.6 454.4,358.7 455.6,358.8 456.8,358.9 458.1,359.0 459.3,359.0 460.5,359.1 461.7,359.2 462.9,359.3 464.1,359.4 465.3,359.5 466.6,359.5 467.8,359.6 469.0,359.7 470.2,359.8 471.4,359.8 472.6,359.9 473.9,360.0 475.1,360.1 476.3,360.1 477.5,360.2 478.7,360.2 479.9,360.3 481.2,360.3 482.4,360.4 483.6,360.4 484.8,360.4 486.0,360.5 487.2,360.5 488.5,360.5 489.7,360.5 490.9,360.6 492.1,360.6 493.3,360.6 494.5,360.7 495.8,360.7 497.0,360.7 498.2,360.7 499.4,360.7 500.6,360.8 501.8,360.8 503.0,360.8 504.3,360.8 505.5,360.9 506.7,360.9 507.9,360.9 509.1,360.9 510.3,360.9 511.6,361.0 512.8,361.0 514.0,361.0 515.2,361.0 516.4,361.0 517.6,361.0 518.9,361.1 520.1,361.1 521.3,361.1 522.5,361.1 523.7,361.1 524.9,361.1 526.2,361.1 527.4,361.2 528.6,361.2 529.8,361.2 531.0,361.2 532.2,361.2 533.4,361.2 534.7,361.2 535.9,361.2 537.1,361.2 538.3,361.2 539.5,361.3 540.7,361.3 542.0,361.3 543.2,361.3 544.4,361.3 545.6,361.3 546.8,361.3 548.0,361.3 549.3,361.3 550.5,361.3 551.7,361.3 552.9,361.3 554.1,361.3 555.3,361.3 556.6,361.3 557.8,361.3 559.0,361.4 560.2,361.4 561.4,361.4 562.6,361.4 563.9,361.4 565.1,361.4 566.3,361.4 567.5,361.4 568.7,361.4 569.9,361.4 571.1,361.4 572.4,361.4 573.6,361.4 574.8,361.4 576.0,361.4 577.2,361.4 578.4,361.4 579.7,361.4 580.9,361.4 582.1,361.4 583.3,361.4 584.5,361.4 585.7,361.4 587.0,361.4 588.2,361.4 589.4,361.5 590.6,361.5 591.8,361.5 593.0,361.5 594.3,361.5 595.5,361.5 596.7,361.5 597.9,361.5 599.1,361.5 600.3,361.5 601.6,361.5 602.8,361.5 604.0,361.5 605.2,361.5" stroke="#7d2430"/>
<polyline points="137.0,361.5 138.2,361.4 139.4,361.4 140.6,361.3 141.9,361.3 143.1,361.2 144.3,361.1 145.5,361.1 146.7,361.0 147.9,360.9 149.2,360.8 150.4,360.7 151.6,360.6 152.8,360.5 154.0,360.3 155.2,360.2 156.5,360.0 157.7,359.9 158.9,359.7 160.1,359.5 161.3,359.3 162.5,359.0 163.8,358.8 165.0,358.5 166.2,358.2 167.4,357.9 168.6,357.6 169.8,357.2 171.1,356.8 172.3,356.4 173.5,355.9 174.7,355.4 175.9,354.8 177.1,354.2 178.3,353.6 179.6,352.9 180.8,352.2 182.0,351.4 183.2,350.5 184.4,349.7 185.6,348.7 186.9,347.7 188.1,346.6 189.3,345.5 190.5,344.2 191.7,342.9 192.9,341.6 194.2,340.2 195.4,338.8 196.6,337.4 197.8,336.0 199.0,334.5 200.2,333.2 201.5,331.9 202.7,330.6 203.9,329.5 205.1,328.4 206.3,327.4 207.5,326.5 208.8,325.7 210.0,325.0 211.2,324.4 212.4,323.8 213.6,323.3 214.8,322.9 216.0,322.6 217.3,322.3 218.5,322.0 219.7,321.8 220.9,321.7 222.1,321.6 223.3,321.6 224.6,321.5 225.8,321.5 227.0,321.5 228.2,321.6 229.4,321.6 230.6,321.7 231.9,321.8 233.1,321.9 234.3,322.0 235.5,322.1 236.7,322.3 237.9,322.4 239.2,322.6 240.4,322.8 241.6,323.0 242.8,323.2 244.0,323.4 245.2,323.7 246.4,323.9 247.7,324.2 248.9,324.5 250.1,324.8 251.3,325.1 252.5,325.4 253.7,325.7 255.0,326.0 256.2,326.4 257.4,326.7 258.6,327.1 259.8,327.4 261.0,327.8 262.3,328.2 263.5,328.6 264.7,329.0 265.9,329.4 267.1,329.9 268.3,330.3 269.6,330.7 270.8,331.1 272.0,331.6 273.2,332.0 274.4,332.5 275.6,332.9 276.9,333.3 278.1,333.8 279.3,334.2 280.5,334.7 281.7,335.1 282.9,335.5 284.1,336.0 285.4,336.4 286.6,336.8 287.8,337.3 289.0,337.7 290.2,338.1 291.4,338.5 292.7,338.9 293.9,339.3 295.1,339.7 296.3,340.0 297.5,340.4 298.7,340.8 300.0,341.1 301.2,341.5 302.4,341.8 303.6,342.1 304.8,342.4 306.0,342.8 307.3,343.1 308.5,343.4 309.7,343.6 310.9,343.9 312.1,344.2 313.3,344.5 314.6,344.7 315.8,345.0 317.0,345.2 318.2,345.5 319.4,345.7 320.6,345.9 321.8,346.2 323.1,346.4 324.3,346.6 325.5,346.8 326.7,347.0 327.9,347.2 329.1,347.4 330.4,347.6 331.6,347.8 332.8,348.0 334.0,348.2 335.2,348.4 336.4,348.6 337.7,348.7 338.9,348.9 340.1,349.1 341.3,349.3 342.5,349.4 343.7,349.6 345.0,349.8 346.2,349.9 347.4,350.1 348.6,350.2 349.8,350.4 351.0,350.5 352.3,350.7 353.5,350.8 354.7,351.0 355.9,351.1 357.1,351.2 358.3,351.4 359.5,351.5 360.8,351.6 362.0,351.8 363.2,351.9 364.4,352.0 365.6,352.1 366.8,352.3 368.1,352.4 369.3,352.5 370.5,352.6 371.7,352.7 372.9,352.9 374.1,353.0 375.4,353.1 376.6,353.2 377.8,353.3 379.0,353.4 380.2,353.5 381.4,353.6 382.7,353.7 383.9,353.9 385.1,354.0 386.3,354.1 387.5,354.2 388.7,354.3 389.9,354.3 391.2,354.4 392.4,354.5 393.6,354.6 394.8,354.7 396.0,354.8 397.2,354.9 398.5,355.0 399.7,355.1 400.9,355.1 402.1,355.2 403.3,355.3 404.5,355.4 405.8,355.5 407.0,355.5 408.2,355.6 409.4,355.7 410.6,355.8 411.8,355.9 413.1,355.9 414.3,356.0 415.5,356.1 416.7,356.2 417.9,356.2 419.1,356.3 420.4,356.4 421.6,356.5 422.8,356.5 424.0,356.6 425.2,356.7 426.4,356.8 427.6,356.9 428.9,356.9 430.1,357.0 431.3,357.1 432.5,357.2 433.7,357.3 434.9,357.4 436.2,357.5 437.4,357.6 438.6,357.6 439.8,357.7 441.0,357.8 442.2,357.9 443.5,358.0 444.7,358.1 445.9,358.2 447.1,358.3 448.3,358.3 449.5,358.4 450.8,358.5 452.0,358.6 453.2,358.7 454.4,358.7 455.6,358.8 456.8,358.9 458.1,359.0 459.3,359.1 460.5,359.1 461.7,359.2 462.9,359.3 464.1,359.4 465.3,359.5 466.6,359.6 467.8,359.6 469.0,359.7 470.2,359.8 471.4,359.9 472.6,359.9 473.9,360.0 475.1,360.1 476.3,360.1 477.5,360.2 478.7,360.2 479.9,360.3 481.2,360.3 482.4,360.4 483.6,360.4 484.8,360.4 486.0,360.5 487.2,360.5 488.5,360.5 489.7,360.5 490.9,360.6 492.1,360.6 493.3,360.6 494.5,360.7 495.8,360.7 497.0,360.7 498.2,360.7 499.4,360.8 500.6,360.8 501.8,360.8 503.0,360.8 504.3,360.8 505.5,360.9 506.7,360.9 507.9,360.9 509.1,360.9 510.3,360.9 511.6,361.0 512.8,361.0 514.0,361.0 515.2,361.0 516.4,361.0 517.6,361.0 518.9,361.1 520.1,361.1 521.3,361.1 522.5,361.1 523.7,361.1 524.9,361.1 526.2,361.1 527.4,361.2 528.6,361.2 529.8,361.2 531.0,361.2 532.2,361.2 533.4,361.2 534.7,361.2 535.9,361.2 537.1,361.2 538.3,361.2 539.5,361.3 540.7,361.3 542.0,361.3 543.2,361.3 544.4,361.3 545.6,361.3 546.8,361.3 548.0,361.3 549.3,361.3 550.5,361.3 551.7,361.3 552.9,361.3 554.1,361.3 555.3,361.3 556.6,361.3 557.8,361.3 559.0,361.4 560.2,361.4 561.4,361.4 562.6,361.4 563.9,361.4 565.1,361.4 566.3,361.4 567.5,361.4 568.7,361.4 569.9,361.4 571.1,361.4 572.4,361.4 573.6,361.4 574.8,361.4 576.0,361.4 577.2,361.4 578.4,361.4 579.7,361.4 580.9,361.4 582.1,361.4 583.3,361.4 584.5,361.4 585.7,361.4 587.0,361.4 588.2,361.4 589.4,361.5 590.6,361.5 591.8,361.5 593.0,361.5 594.3,361.5 595.5,361.5 596.7,361.5 597.9,361.5 599.1,361.5 600.3,361.5 601.6,361.5 602.8,361.5 604.0,361.5 605.2,361.5" stroke="#dc3c8a"/>
<polyline points="137.0,361.5 138.2,361.5 139.4,361.5 140.6,361.4 141.9,361.4 143.1,361.3 144.3,361.3 145.5,361.2 146.7,361.1 147.9,361.1 149.2,361.0 150.4,360.9 151.6,360.8 152.8,360.7 154.0,360.6 155.2,360.5 156.5,360.3 157.7,360.2 158.9,360.1 160.1,359.9 161.3,359.7 162.5,359.6 163.8,359.4 165.0,359.2 166.2,358.9 167.4,358.7 168.6,358.4 169.8,358.2 171.1,357.8 172.3,357.5 173.5,357.1 174.7,356.7 175.9,356.3 177.1,355.8 178.3,355.4 179.6,354.8 180.8,354.3 182.0,353.7 183.2,353.0 184.4,352.4 185.6,351.7 186.9,350.9 188.1,350.1 189.3,349.3 190.5,348.3 191.7,347.4 192.9,346.4 194.2,345.4 195.4,344.3 196.6,343.3 197.8,342.2 199.0,341.2 200.2,340.2 201.5,339.3 202.7,338.4 203.9,337.6 205.1,336.8 206.3,336.1 207.5,335.4 208.8,334.9 210.0,334.3 211.2,333.8 212.4,333.4 213.6,333.1 214.8,332.8 216.0,332.5 217.3,332.3 218.5,332.1 219.7,331.9 220.9,331.8 222.1,331.8 223.3,331.7 224.6,331.7 225.8,331.7 227.0,331.7 228.2,331.7 229.4,331.7 230.6,331.8 231.9,331.8 233.1,331.9 234.3,331.9 235.5,332.0 236.7,332.1 237.9,332.2 239.2,332.4 240.4,332.5 241.6,332.6 242.8,332.8 244.0,332.9 245.2,333.1 246.4,333.3 247.7,333.4 248.9,333.6 250.1,333.8 251.3,334.0 252.5,334.2 253.7,334.5 255.0,334.7 256.2,334.9 257.4,335.2 258.6,335.4 259.8,335.7 261.0,335.9 262.3,336.2 263.5,336.5 264.7,336.7 265.9,337.0 267.1,337.3 268.3,337.6 269.6,337.9 270.8,338.2 272.0,338.5 273.2,338.8 274.4,339.1 275.6,339.4 276.9,339.7 278.1,340.0 279.3,340.3 280.5,340.6 281.7,340.9 282.9,341.2 284.1,341.5 285.4,341.8 286.6,342.1 287.8,342.4 289.0,342.7 290.2,343.0 291.4,343.3 292.7,343.6 293.9,343.8 295.1,344.1 296.3,344.4 297.5,344.6 298.7,344.9 300.0,345.1 301.2,345.3 302.4,345.6 303.6,345.8 304.8,346.0 306.0,346.2 307.3,346.5 308.5,346.7 309.7,346.9 310.9,347.1 312.1,347.3 313.3,347.4 314.6,347.6 315.8,347.8 317.0,348.0 318.2,348.1 319.4,348.3 320.6,348.5 321.8,348.6 323.1,348.8 324.3,348.9 325.5,349.1 326.7,349.2 327.9,349.4 329.1,349.5 330.4,349.7 331.6,349.8 332.8,350.0 334.0,350.1 335.2,350.2 336.4,350.4 337.7,350.5 338.9,350.6 340.1,350.7 341.3,350.9 342.5,351.0 343.7,351.1 345.0,351.2 346.2,351.3 347.4,351.5 348.6,351.6 349.8,351.7 351.0,351.8 352.3,351.9 353.5,352.0 354.7,352.1 355.9,352.2 357.1,352.3 358.3,352.4 359.5,352.5 360.8,352.6 362.0,352.7 363.2,352.8 364.4,352.9 365.6,353.0 366.8,353.1 368.1,353.2 369.3,353.3 370.5,353.4 371.7,353.4 372.9,353.5 374.1,353.6 375.4,353.7 376.6,353.8 377.8,353.9 379.0,354.0 380.2,354.1 381.4,354.2 382.7,354.2 383.9,354.3 385.1,354.4 386.3,354.5 387.5,354.6 388.7,354.7 389.9,354.7 391.2,354.8 392.4,354.9 393.6,355.0 394.8,355.0 396.0,355.1 397.2,355.2 398.5,355.3 399.7,355.3 400.9,355.4 402.1,355.5 403.3,355.5 404.5,355.6 405.8,355.7 407.0,355.8 408.2,355.8 409.4,355.9 410.6,356.0 411.8,356.0 413.1,356.1 414.3,356.2 415.5,356.2 416.7,356.3 417.9,356.4 419.1,356.4 420.4,356.5 421.6,356.6 422.8,356.6 424.0,356.7 425.2,356.8 426.4,356.9 427.6,356.9 428.9,357.0 430.1,357.1 431.3,357.2 432.5,357.3 433.7,357.4 434.9,357.4 436.2,357.5 437.4,357.6 438.6,357.7 439.8,357.8 441.0,357.9 442.2,358.0 443.5,358.0 444.7,358.1 445.9,358.2 447.1,358.3 448.3,358.4 449.5,358.5 450.8,358.5 452.0,358.6 453.2,358.7 454.4,358.8 455.6,358.8 456.8,358.9 458.1,359.0 459.3,359.1 460.5,359.2 461.7,359.2 462.9,359.3 464.1,359.4 465.3,359.5 466.6,359.6 467.8,359.6 469.0,359.7 470.2,359.8 471.4,359.9 472.6,359.9 473.9,360.0 475.1,360.1 476.3,360.1 477.5,360.2 478.7,360.2 479.9,360.3 481.2,360.3 482.4,360.4 483.6,360.4 484.8,360.4 486.0,360.5 487.2,360.5 488.5,360.5 489.7,360.6 490.9,360.6 492.1,360.6 493.3,360.6 494.5,360.7 495.8,360.7 497.0,360.7 498.2,360.7 499.4,360.8 500.6,360.8 501.8,360.8 503.0,360.8 504.3,360.8 505.5,360.9 506.7,360.9 507.9,360.9 509.1,360.9 510.3,360.9 511.6,361.0 512.8,361.0 514.0,361.0 515.2,361.0 516.4,361.0 517.6,361.0 518.9,361.1 520.1,361.1 521.3,361.1 522.5,361.1 523.7,361.1 524.9,361.1 526.2,361.1 527.4,361.2 528.6,361.2 529.8,361.2 531.0,361.2 532.2,361.2 533.4,361.2 534.7,361.2 535.9,361.2 537.1,361.2 538.3,361.2 539.5,361.3 540.7,361.3 542.0,361.3 543.2,361.3 544.4,361.3 545.6,361.3 546.8,361.3 548.0,361.3 549.3,361.3 550.5,361.3 551.7,361.3 552.9,361.3 554.1,361.3 555.3,361.3 556.6,361.3 557.8,361.4 559.0,361.4 560.2,361.4 561.4,361.4 562.6,361.4 563.9,361.4 565.1,361.4 566.3,361.4 567.5,361.4 568.7,361.4 569.9,361.4 571.1,361.4 572.4,361.4 573.6,361.4 574.8,361.4 576.0,361.4 577.2,361.4 578.4,361.4 579.7,361.4 580.9,361.4 582.1,361.4 583.3,361.4 584.5,361.4 585.7,361.4 587.0,361.4 588.2,361.4 589.4,361.5 590.6,361.5 591.8,361.5 593.0,361.5 594.3,361.5 595.5,361.5 596.7,361.5 597.9,361.5 599.1,361.5 600.3,361.5 601.6,361.5 602.8,361.5 604.0,361.5 605.2,361.5" stroke="#2f9060"/>
<polyline points="137.0,361.6 138.2,361.5 139.4,361.5 140.6,361.5 141.9,361.4 143.1,361.4 144.3,361.3 145.5,361.3 146.7,361.2 147.9,361.2 149.2,361.1 150.4,361.0 151.6,360.9 152.8,360.9 154.0,360.8 155.2,360.7 156.5,360.6 157.7,360.4 158.9,360.3 160.1,360.2 161.3,360.0 162.5,359.9 163.8,359.7 165.0,359.6 166.2,359.4 167.4,359.2 168.6,359.0 169.8,358.7 171.1,358.5 172.3,358.2 173.5,357.9 174.7,357.5 175.9,357.2 177.1,356.8 178.3,356.4 179.6,355.9 180.8,355.5 182.0,355.0 183.2,354.5 184.4,353.9 185.6,353.4 186.9,352.8 188.1,352.1 189.3,351.4 190.5,350.7 191.7,349.9 192.9,349.1 194.2,348.2 195.4,347.4 196.6,346.5 197.8,345.7 199.0,344.9 200.2,344.1 201.5,343.3 202.7,342.6 203.9,342.0 205.1,341.4 206.3,340.8 207.5,340.3 208.8,339.8 210.0,339.4 211.2,339.0 212.4,338.7 213.6,338.4 214.8,338.1 216.0,337.9 217.3,337.7 218.5,337.5 219.7,337.4 220.9,337.3 222.1,337.3 223.3,337.2 224.6,337.2 225.8,337.2 227.0,337.2 228.2,337.2 229.4,337.2 230.6,337.2 231.9,337.3 233.1,337.3 234.3,337.4 235.5,337.4 236.7,337.5 237.9,337.6 239.2,337.7 240.4,337.8 241.6,337.9 242.8,338.0 244.0,338.1 245.2,338.2 246.4,338.3 247.7,338.5 248.9,338.6 250.1,338.8 251.3,338.9 252.5,339.1 253.7,339.2 255.0,339.4 256.2,339.6 257.4,339.8 258.6,340.0 259.8,340.2 261.0,340.3 262.3,340.6 263.5,340.8 264.7,341.0 265.9,341.2 267.1,341.4 268.3,341.6 269.6,341.8 270.8,342.1 272.0,342.3 273.2,342.5 274.4,342.8 275.6,343.0 276.9,343.2 278.1,343.4 279.3,343.7 280.5,343.9 281.7,344.1 282.9,344.4 284.1,344.6 285.4,344.8 286.6,345.0 287.8,345.3 289.0,345.5 290.2,345.7 291.4,345.9 292.7,346.1 293.9,346.3 295.1,346.5 296.3,346.7 297.5,346.9 298.7,347.1 300.0,347.3 301.2,347.5 302.4,347.7 303.6,347.8 304.8,348.0 306.0,348.2 307.3,348.3 308.5,348.5 309.7,348.7 310.9,348.8 312.1,349.0 313.3,349.1 314.6,349.2 315.8,349.4 317.0,349.5 318.2,349.6 319.4,349.8 320.6,349.9 321.8,350.0 323.1,350.1 324.3,350.3 325.5,350.4 326.7,350.5 327.9,350.6 329.1,350.7 330.4,350.8 331.6,350.9 332.8,351.0 334.0,351.2 335.2,351.3 336.4,351.4 337.7,351.5 338.9,351.6 340.1,351.7 341.3,351.8 342.5,351.9 343.7,351.9 345.0,352.0 346.2,352.1 347.4,352.2 348.6,352.3 349.8,352.4 351.0,352.5 352.3,352.6 353.5,352.7 354.7,352.8 355.9,352.8 357.1,352.9 358.3,353.0 359.5,353.1 360.8,353.2 362.0,353.2 363.2,353.3 364.4,353.4 365.6,353.5 366.8,353.5 368.1,353.6 369.3,353.7 370.5,353.8 371.7,353.8 372.9,353.9 374.1,354.0 375.4,354.1 376.6,354.2 377.8,354.2 379.0,354.3 380.2,354.4 381.4,354.5 382.7,354.5 383.9,354.6 385.1,354.7 386.3,354.8 387.5,354.8 388.7,354.9 389.9,355.0 391.2,355.0 392.4,355.1 393.6,355.2 394.8,355.2 396.0,355.3 397.2,355.4 398.5,355.4 399.7,355.5 400.9,355.6 402.1,355.6 403.3,355.7 404.5,355.7 405.8,355.8 407.0,355.9 408.2,355.9 409.4,356.0 410.6,356.1 411.8,356.1 413.1,356.2 414.3,356.3 415.5,356.3 416.7,356.4 417.9,356.5 419.1,356.5 420.4,356.6 421.6,356.6 422.8,356.7 424.0,356.8 425.2,356.9 426.4,356.9 427.6,357.0 428.9,357.1 430.1,357.2 431.3,357.2 432.5,357.3 433.7,357.4 434.9,357.5 436.2,357.6 437.4,357.6 438.6,357.7 439.8,357.8 441.0,357.9 442.2,358.0 443.5,358.1 444.7,358.2 445.9,358.2 447.1,358.3 448.3,358.4 449.5,358.5 450.8,358.6 452.0,358.6 453.2,358.7 454.4,358.8 455.6,358.9 456.8,358.9 458.1,359.0 459.3,359.1 460.5,359.2 461.7,359.3 462.9,359.3 464.1,359.4 465.3,359.5 466.6,359.6 467.8,359.7 469.0,359.7 470.2,359.8 471.4,359.9 472.6,359.9 473.9,360.0 475.1,360.1 476.3,360.1 477.5,360.2 478.7,360.2 479.9,360.3 481.2,360.3 482.4,360.4 483.6,360.4 484.8,360.4 486.0,360.5 487.2,360.5 488.5,360.5 489.7,360.6 490.9,360.6 492.1,360.6 493.3,360.6 494.5,360.7 495.8,360.7 497.0,360.7 498.2,360.7 499.4,360.8 500.6,360.8 501.8,360.8 503.0,360.8 504.3,360.8 505.5,360.9 506.7,360.9 507.9,360.9 509.1,360.9 510.3,360.9 511.6,361.0 512.8,361.0 514.0,361.0 515.2,361.0 516.4,361.0 517.6,361.0 518.9,361.1 520.1,361.1 521.3,361.1 522.5,361.1 523.7,361.1 524.9,361.1 526.2,361.1 527.4,361.2 528.6,361.2 529.8,361.2 531.0,361.2 532.2,361.2 533.4,361.2 534.7,361.2 535.9,361.2 537.1,361.2 538.3,361.2 539.5,361.3 540.7,361.3 542.0,361.3 543.2,361.3 544.4,361.3 545.6,361.3 546.8,361.3 548.0,361.3 549.3,361.3 550.5,361.3 551.7,361.3 552.9,361.3 554.1,361.3 555.3,361.3 556.6,361.3 557.8,361.4 559.0,361.4 560.2,361.4 561.4,361.4 562.6,361.4 563.9,361.4 565.1,361.4 566.3,361.4 567.5,361.4 568.7,361.4 569.9,361.4 571.1,361.4 572.4,361.4 573.6,361.4 574.8,361.4 576.0,361.4 577.2,361.4 578.4,361.4 579.7,361.4 580.9,361.4 582.1,361.4 583.3,361.4 584.5,361.4 585.7,361.4 587.0,361.4 588.2,361.4 589.4,361.5 590.6,361.5 591.8,361.5 593.0,361.5 594.3,361.5 595.5,361.5 596.7,361.5 597.9,361.5 599.1,361.5 600.3,361.5 601.6,361.5 602.8,361.5 604.0,361.5 605.2,361.5" stroke="#3c3f8e"/>
<polyline points="137.0,361.7 138.2,361.6 139.4,361.6 140.6,361.6 141.9,361.5 143.1,361.5 144.3,361.5 145.5,361.4 146.7,361.4 147.9,361.3 149.2,361.3 150.4,361.2 151.6,361.2 152.8,361.1 154.0,361.0 155.2,360.9 156.5,360.9 157.7,360.8 158.9,360.7 160.1,360.6 161.3,360.5 162.5,360.3 163.8,360.2 165.0,360.1 166.2,360.0 167.4,359.8 168.6,359.7 169.8,359.5 171.1,359.3 172.3,359.1 173.5,358.8 174.7,358.6 175.9,358.3 177.1,358.0 178.3,357.7 179.6,357.4 180.8,357.1 182.0,356.7 183.2,356.3 184.4,356.0 185.6,355.6 186.9,355.1 188.1,354.6 189.3,354.1 190.5,353.6 191.7,353.0 192.9,352.5 194.2,351.9 195.4,351.2 196.6,350.6 197.8,350.0 199.0,349.5 200.2,348.9 201.5,348.4 202.7,347.9 203.9,347.4 205.1,347.0 206.3,346.6 207.5,346.3 208.8,345.9 210.0,345.6 211.2,345.3 212.4,345.1 213.6,344.9 214.8,344.7 216.0,344.5 217.3,344.4 218.5,344.2 219.7,344.1 220.9,344.1 222.1,344.0 223.3,344.0 224.6,344.0 225.8,343.9 227.0,343.9 228.2,343.9 229.4,343.9 230.6,343.9 231.9,344.0 233.1,344.0 234.3,344.0 235.5,344.0 236.7,344.1 237.9,344.1 239.2,344.2 240.4,344.2 241.6,344.3 242.8,344.4 244.0,344.4 245.2,344.5 246.4,344.6 247.7,344.7 248.9,344.8 250.1,344.8 251.3,344.9 252.5,345.0 253.7,345.1 255.0,345.2 256.2,345.3 257.4,345.5 258.6,345.6 259.8,345.7 261.0,345.8 262.3,345.9 263.5,346.1 264.7,346.2 265.9,346.3 267.1,346.4 268.3,346.6 269.6,346.7 270.8,346.9 272.0,347.0 273.2,347.1 274.4,347.3 275.6,347.4 276.9,347.6 278.1,347.7 279.3,347.8 280.5,348.0 281.7,348.1 282.9,348.3 284.1,348.4 285.4,348.5 286.6,348.7 287.8,348.8 289.0,348.9 290.2,349.1 291.4,349.2 292.7,349.3 293.9,349.5 295.1,349.6 296.3,349.7 297.5,349.8 298.7,350.0 300.0,350.1 301.2,350.2 302.4,350.3 303.6,350.4 304.8,350.5 306.0,350.6 307.3,350.7 308.5,350.8 309.7,350.9 310.9,351.0 312.1,351.1 313.3,351.2 314.6,351.3 315.8,351.4 317.0,351.4 318.2,351.5 319.4,351.6 320.6,351.7 321.8,351.8 323.1,351.8 324.3,351.9 325.5,352.0 326.7,352.1 327.9,352.1 329.1,352.2 330.4,352.3 331.6,352.4 332.8,352.4 334.0,352.5 335.2,352.6 336.4,352.6 337.7,352.7 338.9,352.8 340.1,352.8 341.3,352.9 342.5,353.0 343.7,353.0 345.0,353.1 346.2,353.2 347.4,353.2 348.6,353.3 349.8,353.3 351.0,353.4 352.3,353.5 353.5,353.5 354.7,353.6 355.9,353.6 357.1,353.7 358.3,353.7 359.5,353.8 360.8,353.9 362.0,353.9 363.2,354.0 364.4,354.0 365.6,354.1 366.8,354.1 368.1,354.2 369.3,354.3 370.5,354.3 371.7,354.4 372.9,354.4 374.1,354.5 375.4,354.5 376.6,354.6 377.8,354.7 379.0,354.7 380.2,354.8 381.4,354.8 382.7,354.9 383.9,355.0 385.1,355.0 386.3,355.1 387.5,355.1 388.7,355.2 389.9,355.3 391.2,355.3 392.4,355.4 393.6,355.4 394.8,355.5 396.0,355.5 397.2,355.6 398.5,355.6 399.7,355.7 400.9,355.8 402.1,355.8 403.3,355.9 404.5,355.9 405.8,356.0 407.0,356.0 408.2,356.1 409.4,356.2 410.6,356.2 411.8,356.3 413.1,356.3 414.3,356.4 415.5,356.4 416.7,356.5 417.9,356.6 419.1,356.6 420.4,356.7 421.6,356.7 422.8,356.8 424.0,356.9 425.2,356.9 426.4,357.0 427.6,357.1 428.9,357.1 430.1,357.2 431.3,357.3 432.5,357.4 433.7,357.5 434.9,357.5 436.2,357.6 437.4,357.7 438.6,357.8 439.8,357.9 441.0,357.9 442.2,358.0 443.5,358.1 444.7,358.2 445.9,358.3 447.1,358.3 448.3,358.4 449.5,358.5 450.8,358.6 452.0,358.7 453.2,358.7 454.4,358.8 455.6,358.9 456.8,359.0 458.1,359.0 459.3,359.1 460.5,359.2 461.7,359.3 462.9,359.3 464.1,359.4 465.3,359.5 466.6,359.6 467.8,359.7 469.0,359.7 470.2,359.8 471.4,359.9 472.6,360.0 473.9,360.0 475.1,360.1 476.3,360.1 477.5,360.2 478.7,360.3 479.9,360.3 481.2,360.3 482.4,360.4 483.6,360.4 484.8,360.4 486.0,360.5 487.2,360.5 488.5,360.5 489.7,360.6 490.9,360.6 492.1,360.6 493.3,360.6 494.5,360.7 495.8,360.7 497.0,360.7 498.2,360.7 499.4,360.8 500.6,360.8 501.8,360.8 503.0,360.8 504.3,360.8 505.5,360.9 506.7,360.9 507.9,360.9 509.1,360.9 510.3,360.9 511.6,361.0 512.8,361.0 514.0,361.0 515.2,361.0 516.4,361.0 517.6,361.0 518.9,361.1 520.1,361.1 521.3,361.1 522.5,361.1 523.7,361.1 524.9,361.1 526.2,361.1 527.4,361.2 528.6,361.2 529.8,361.2 531.0,361.2 532.2,361.2 533.4,361.2 534.7,361.2 535.9,361.2 537.1,361.2 538.3,361.2 539.5,361.3 540.7,361.3 542.0,361.3 543.2,361.3 544.4,361.3 545.6,361.3 546.8,361.3 548.0,361.3 549.3,361.3 550.5,361.3 551.7,361.3 552.9,361.3 554.1,361.3 555.3,361.3 556.6,361.3 557.8,361.4 559.0,361.4 560.2,361.4 561.4,361.4 562.6,361.4 563.9,361.4 565.1,361.4 566.3,361.4 567.5,361.4 568.7,361.4 569.9,361.4 571.1,361.4 572.4,361.4 573.6,361.4 574.8,361.4 576.0,361.4 577.2,361.4 578.4,361.4 579.7,361.4 580.9,361.4 582.1,361.4 583.3,361.4 584.5,361.4 585.7,361.4 587.0,361.4 588.2,361.4 589.4,361.5 590.6,361.5 591.8,361.5 593.0,361.5 594.3,361.5 595.5,361.5 596.7,361.5 597.9,361.5 599.1,361.5 600.3,361.5 601.6,361.5 602.8,361.5 604.0,361.5 605.2,361.5" stroke="#e7a85a"/>
<polyline points="137.0,361.7 138.2,361.7 139.4,361.7 140.6,361.6 141.9,361.6 143.1,361.6 144.3,361.6 145.5,361.5 146.7,361.5 147.9,361.4 149.2,361.4 150.4,361.4 151.6,361.3 152.8,361.2 154.0,361.2 155.2,361.1 156.5,361.1 157.7,361.0 158.9,360.9 160.1,360.8 161.3,360.7 162.5,360.6 163.8,360.5 165.0,360.4 166.2,360.3 167.4,360.2 168.6,360.1 169.8,360.0 171.1,359.8 172.3,359.6 173.5,359.4 174.7,359.2 175.9,359.0 177.1,358.8 178.3,358.5 179.6,358.3 180.8,358.0 182.0,357.7 183.2,357.4 184.4,357.1 185.6,356.8 186.9,356.5 188.1,356.1 189.3,355.7 190.5,355.3 191.7,354.8 192.9,354.3 194.2,353.9 195.4,353.4 196.6,352.9 197.8,352.4 199.0,352.0 200.2,351.5 201.5,351.1 202.7,350.7 203.9,350.4 205.1,350.1 206.3,349.8 207.5,349.5 208.8,349.2 210.0,349.0 211.2,348.8 212.4,348.6 213.6,348.4 214.8,348.2 216.0,348.1 217.3,347.9 218.5,347.8 219.7,347.7 220.9,347.7 222.1,347.6 223.3,347.6 224.6,347.6 225.8,347.6 227.0,347.6 228.2,347.5 229.4,347.5 230.6,347.5 231.9,347.5 233.1,347.6 234.3,347.6 235.5,347.6 236.7,347.6 237.9,347.6 239.2,347.7 240.4,347.7 241.6,347.8 242.8,347.8 244.0,347.8 245.2,347.9 246.4,347.9 247.7,348.0 248.9,348.1 250.1,348.1 251.3,348.2 252.5,348.2 253.7,348.3 255.0,348.4 256.2,348.4 257.4,348.5 258.6,348.6 259.8,348.7 261.0,348.7 262.3,348.8 263.5,348.9 264.7,349.0 265.9,349.1 267.1,349.2 268.3,349.3 269.6,349.3 270.8,349.4 272.0,349.5 273.2,349.6 274.4,349.7 275.6,349.8 276.9,349.9 278.1,350.0 279.3,350.1 280.5,350.2 281.7,350.3 282.9,350.4 284.1,350.5 285.4,350.6 286.6,350.7 287.8,350.7 289.0,350.8 290.2,350.9 291.4,351.0 292.7,351.1 293.9,351.2 295.1,351.3 296.3,351.3 297.5,351.4 298.7,351.5 300.0,351.6 301.2,351.7 302.4,351.7 303.6,351.8 304.8,351.9 306.0,351.9 307.3,352.0 308.5,352.1 309.7,352.1 310.9,352.2 312.1,352.3 313.3,352.3 314.6,352.4 315.8,352.4 317.0,352.5 318.2,352.6 319.4,352.6 320.6,352.7 321.8,352.7 323.1,352.8 324.3,352.8 325.5,352.9 326.7,352.9 327.9,353.0 329.1,353.0 330.4,353.1 331.6,353.1 332.8,353.2 334.0,353.2 335.2,353.3 336.4,353.3 337.7,353.4 338.9,353.4 340.1,353.5 341.3,353.5 342.5,353.6 343.7,353.6 345.0,353.7 346.2,353.7 347.4,353.8 348.6,353.8 349.8,353.9 351.0,353.9 352.3,354.0 353.5,354.0 354.7,354.0 355.9,354.1 357.1,354.1 358.3,354.2 359.5,354.2 360.8,354.3 362.0,354.3 363.2,354.3 364.4,354.4 365.6,354.4 366.8,354.5 368.1,354.5 369.3,354.6 370.5,354.6 371.7,354.7 372.9,354.7 374.1,354.8 375.4,354.8 376.6,354.9 377.8,354.9 379.0,355.0 380.2,355.0 381.4,355.1 382.7,355.1 383.9,355.2 385.1,355.2 386.3,355.3 387.5,355.3 388.7,355.4 389.9,355.4 391.2,355.5 392.4,355.5 393.6,355.6 394.8,355.6 396.0,355.7 397.2,355.7 398.5,355.8 399.7,355.8 400.9,355.9 402.1,355.9 403.3,356.0 404.5,356.0 405.8,356.1 407.0,356.1 408.2,356.2 409.4,356.2 410.6,356.3 411.8,356.3 413.1,356.4 414.3,356.5 415.5,356.5 416.7,356.6 417.9,356.6 419.1,356.7 420.4,356.7 421.6,356.8 422.8,356.9 424.0,356.9 425.2,357.0 426.4,357.0 427.6,357.1 428.9,357.2 430.1,357.3 431.3,357.3 432.5,357.4 433.7,357.5 434.9,357.6 436.2,357.6 437.4,357.7 438.6,357.8 439.8,357.9 441.0,358.0 442.2,358.0 443.5,358.1 444.7,358.2 445.9,358.3 447.1,358.4 448.3,358.4 449.5,358.5 450.8,358.6 452.0,358.7 453.2,358.7 454.4,358.8 455.6,358.9 456.8,359.0 458.1,359.0 459.3,359.1 460.5,359.2 461.7,359.3 462.9,359.4 464.1,359.4 465.3,359.5 466.6,359.6 467.8,359.7 469.0,359.7 470.2,359.8 471.4,359.9 472.6,360.0 473.9,360.0 475.1,360.1 476.3,360.1 477.5,360.2 478.7,360.3 479.9,360.3 481.2,360.3 482.4,360.4 483.6,360.4 484.8,360.4 486.0,360.5 487.2,360.5 488.5,360.5 489.7,360.6 490.9,360.6 492.1,360.6 493.3,360.6 494.5,360.7 495.8,360.7 497.0,360.7 498.2,360.7 499.4,360.8 500.6,360.8 501.8,360.8 503.0,360.8 504.3,360.8 505.5,360.9 506.7,360.9 507.9,360.9 509.1,360.9 510.3,360.9 511.6,361.0 512.8,361.0 514.0,361.0 515.2,361.0 516.4,361.0 517.6,361.0 518.9,361.1 520.1,361.1 521.3,361.1 522.5,361.1 523.7,361.1 524.9,361.1 526.2,361.1 527.4,361.2 528.6,361.2 529.8,361.2 531.0,361.2 532.2,361.2 533.4,361.2 534.7,361.2 535.9,361.2 537.1,361.2 538.3,361.2 539.5,361.3 540.7,361.3 542.0,361.3 543.2,361.3 544.4,361.3 545.6,361.3 546.8,361.3 548.0,361.3 549.3,361.3 550.5,361.3 551.7,361.3 552.9,361.3 554.1,361.3 555.3,361.3 556.6,361.3 557.8,361.4 559.0,361.4 560.2,361.4 561.4,361.4 562.6,361.4 563.9,361.4 565.1,361.4 566.3,361.4 567.5,361.4 568.7,361.4 569.9,361.4 571.1,361.4 572.4,361.4 573.6,361.4 574.8,361.4 576.0,361.4 577.2,361.4 578.4,361.4 579.7,361.4 580.9,361.4 582.1,361.4 583.3,361.4 584.5,361.4 585.7,361.4 587.0,361.4 588.2,361.4 589.4,361.5 590.6,361.5 591.8,361.5 593.0,361.5 594.3,361.5 595.5,361.5 596.7,361.5 597.9,361.5 599.1,361.5 600.3,361.5 601.6,361.5 602.8,361.5 604.0,361.5 605.2,361.5" stroke="#6a2d80"/>
<polyline points="137.0,361.8 138.2,361.8 139.4,361.7 140.6,361.7 141.9,361.7 143.1,361.7 144.3,361.7 145.5,361.6 146.7,361.6 147.9,361.6 149.2,361.5 150.4,361.5 151.6,361.5 152.8,361.4 154.0,361.4 155.2,361.3 156.5,361.3 157.7,361.2 158.9,361.2 160.1,361.1 161.3,361.0 162.5,361.0 163.8,360.9 165.0,360.8 166.2,360.7 167.4,360.6 168.6,360.5 169.8,360.4 171.1,360.3 172.3,360.2 173.5,360.0 174.7,359.8 175.9,359.7 177.1,359.5 178.3,359.3 179.6,359.1 180.8,358.8 182.0,358.6 183.2,358.4 184.4,358.1 185.6,357.9 186.9,357.6 188.1,357.3 189.3,357.0 190.5,356.6 191.7,356.3 192.9,355.9 194.2,355.5 195.4,355.1 196.6,354.7 197.8,354.3 199.0,354.0 200.2,353.6 201.5,353.3 202.7,353.0 203.9,352.7 205.1,352.5 206.3,352.2 207.5,352.0 208.8,351.8 210.0,351.6 211.2,351.4 212.4,351.2 213.6,351.1 214.8,350.9 216.0,350.8 217.3,350.7 218.5,350.6 219.7,350.5 220.9,350.5 222.1,350.4 223.3,350.4 224.6,350.4 225.8,350.4 227.0,350.3 228.2,350.3 229.4,350.3 230.6,350.3 231.9,350.3 233.1,350.3 234.3,350.3 235.5,350.3 236.7,350.3 237.9,350.3 239.2,350.4 240.4,350.4 241.6,350.4 242.8,350.4 244.0,350.5 245.2,350.5 246.4,350.5 247.7,350.6 248.9,350.6 250.1,350.6 251.3,350.7 252.5,350.7 253.7,350.8 255.0,350.8 256.2,350.8 257.4,350.9 258.6,350.9 259.8,351.0 261.0,351.0 262.3,351.1 263.5,351.1 264.7,351.2 265.9,351.2 267.1,351.3 268.3,351.3 269.6,351.4 270.8,351.4 272.0,351.5 273.2,351.6 274.4,351.6 275.6,351.7 276.9,351.7 278.1,351.8 279.3,351.8 280.5,351.9 281.7,352.0 282.9,352.0 284.1,352.1 285.4,352.1 286.6,352.2 287.8,352.2 289.0,352.3 290.2,352.4 291.4,352.4 292.7,352.5 293.9,352.5 295.1,352.6 296.3,352.6 297.5,352.7 298.7,352.7 300.0,352.8 301.2,352.8 302.4,352.9 303.6,352.9 304.8,353.0 306.0,353.0 307.3,353.0 308.5,353.1 309.7,353.1 310.9,353.2 312.1,353.2 313.3,353.2 314.6,353.3 315.8,353.3 317.0,353.3 318.2,353.4 319.4,353.4 320.6,353.5 321.8,353.5 323.1,353.5 324.3,353.6 325.5,353.6 326.7,353.6 327.9,353.7 329.1,353.7 330.4,353.7 331.6,353.8 332.8,353.8 334.0,353.8 335.2,353.9 336.4,353.9 337.7,353.9 338.9,354.0 340.1,354.0 341.3,354.0 342.5,354.1 343.7,354.1 345.0,354.1 346.2,354.2 347.4,354.2 348.6,354.3 349.8,354.3 351.0,354.3 352.3,354.4 353.5,354.4 354.7,354.4 355.9,354.5 357.1,354.5 358.3,354.5 359.5,354.5 360.8,354.6 362.0,354.6 363.2,354.6 364.4,354.7 365.6,354.7 366.8,354.7 368.1,354.8 369.3,354.8 370.5,354.9 371.7,354.9 372.9,354.9 374.1,355.0 375.4,355.0 376.6,355.1 377.8,355.1 379.0,355.2 380.2,355.2 381.4,355.3 382.7,355.3 383.9,355.3 385.1,355.4 386.3,355.4 387.5,355.5 388.7,355.5 389.9,355.6 391.2,355.6 392.4,355.7 393.6,355.7 394.8,355.7 396.0,355.8 397.2,355.8 398.5,355.9 399.7,355.9 400.9,356.0 402.1,356.0 403.3,356.1 404.5,356.1 405.8,356.2 407.0,356.2 408.2,356.3 409.4,356.3 410.6,356.4 411.8,356.4 413.1,356.5 414.3,356.5 415.5,356.6 416.7,356.6 417.9,356.7 419.1,356.7 420.4,356.8 421.6,356.8 422.8,356.9 424.0,357.0 425.2,357.0 426.4,357.1 427.6,357.2 428.9,357.2 430.1,357.3 431.3,357.4 432.5,357.4 433.7,357.5 434.9,357.6 436.2,357.7 437.4,357.7 438.6,357.8 439.8,357.9 441.0,358.0 442.2,358.1 443.5,358.1 444.7,358.2 445.9,358.3 447.1,358.4 448.3,358.5 449.5,358.5 450.8,358.6 452.0,358.7 453.2,358.8 454.4,358.8 455.6,358.9 456.8,359.0 458.1,359.0 459.3,359.1 460.5,359.2 461.7,359.3 462.9,359.4 464.1,359.4 465.3,359.5 466.6,359.6 467.8,359.7 469.0,359.8 470.2,359.8 471.4,359.9 472.6,360.0 473.9,360.0 475.1,360.1 476.3,360.2 477.5,360.2 478.7,360.3 479.9,360.3 481.2,360.3 482.4,360.4 483.6,360.4 484.8,360.4 486.0,360.5 487.2,360.5 488.5,360.5 489.7,360.6 490.9,360.6 492.1,360.6 493.3,360.6 494.5,360.7 495.8,360.7 497.0,360.7 498.2,360.7 499.4,360.8 500.6,360.8 501.8,360.8 503.0,360.8 504.3,360.8 505.5,360.9 506.7,360.9 507.9,360.9 509.1,360.9 510.3,360.9 511.6,361.0 512.8,361.0 514.0,361.0 515.2,361.0 516.4,361.0 517.6,361.0 518.9,361.1 520.1,361.1 521.3,361.1 522.5,361.1 523.7,361.1 524.9,361.1 526.2,361.1 527.4,361.2 528.6,361.2 529.8,361.2 531.0,361.2 532.2,361.2 533.4,361.2 534.7,361.2 535.9,361.2 537.1,361.2 538.3,361.2 539.5,361.3 540.7,361.3 542.0,361.3 543.2,361.3 544.4,361.3 545.6,361.3 546.8,361.3 548.0,361.3 549.3,361.3 550.5,361.3 551.7,361.3 552.9,361.3 554.1,361.3 555.3,361.3 556.6,361.3 557.8,361.4 559.0,361.4 560.2,361.4 561.4,361.4 562.6,361.4 563.9,361.4 565.1,361.4 566.3,361.4 567.5,361.4 568.7,361.4 569.9,361.4 571.1,361.4 572.4,361.4 573.6,361.4 574.8,361.4 576.0,361.4 577.2,361.4 578.4,361.4 579.7,361.4 580.9,361.4 582.1,361.4 583.3,361.4 584.5,361.4 585.7,361.4 587.0,361.4 588.2,361.4 589.4,361.5 590.6,361.5 591.8,361.5 593.0,361.5 594.3,361.5 595.5,361.5 596.7,361.5 597.9,361.5 599.1,361.5 600.3,361.5 601.6,361.5 602.8,361.5 604.0,361.5 605.2,361.5" stroke="#c49ae6"/>
<polyline points="137.0,361.9 138.2,361.9 139.4,361.9 140.6,361.8 141.9,361.8 143.1,361.8 144.3,361.8 145.5,361.8 146.7,361.8 147.9,361.7 149.2,361.7 150.4,361.7 151.6,361.7 152.8,361.6 154.0,361.6 155.2,361.6 156.5,361.5 157.7,361.5 158.9,361.4 160.1,361.4 161.3,361.3 162.5,361.3 163.8,361.2 165.0,361.2 166.2,361.1 167.4,361.0 168.6,361.0 169.8,360.9 171.1,360.8 172.3,360.7 173.5,360.6 174.7,360.4 175.9,360.3 177.1,360.2 178.3,360.0 179.6,359.8 180.8,359.7 182.0,359.5 183.2,359.3 184.4,359.1 185.6,358.9 186.9,358.7 188.1,358.5 189.3,358.2 190.5,357.9 191.7,357.6 192.9,357.3 194.2,357.0 195.4,356.7 196.6,356.4 197.8,356.1 199.0,355.8 200.2,355.5 201.5,355.2 202.7,355.0 203.9,354.8 205.1,354.6 206.3,354.4 207.5,354.2 208.8,354.0 210.0,353.9 211.2,353.7 212.4,353.6 213.6,353.4 214.8,353.3 216.0,353.2 217.3,353.1 218.5,353.0 219.7,353.0 220.9,352.9 222.1,352.9 223.3,352.8 224.6,352.8 225.8,352.8 227.0,352.8 228.2,352.8 229.4,352.7 230.6,352.7 231.9,352.7 233.1,352.7 234.3,352.7 235.5,352.7 236.7,352.7 237.9,352.7 239.2,352.7 240.4,352.7 241.6,352.7 242.8,352.8 244.0,352.8 245.2,352.8 246.4,352.8 247.7,352.8 248.9,352.8 250.1,352.8 251.3,352.9 252.5,352.9 253.7,352.9 255.0,352.9 256.2,352.9 257.4,353.0 258.6,353.0 259.8,353.0 261.0,353.0 262.3,353.0 263.5,353.1 264.7,353.1 265.9,353.1 267.1,353.1 268.3,353.2 269.6,353.2 270.8,353.2 272.0,353.2 273.2,353.3 274.4,353.3 275.6,353.3 276.9,353.3 278.1,353.4 279.3,353.4 280.5,353.4 281.7,353.5 282.9,353.5 284.1,353.5 285.4,353.5 286.6,353.6 287.8,353.6 289.0,353.6 290.2,353.6 291.4,353.7 292.7,353.7 293.9,353.7 295.1,353.7 296.3,353.8 297.5,353.8 298.7,353.8 300.0,353.8 301.2,353.9 302.4,353.9 303.6,353.9 304.8,353.9 306.0,353.9 307.3,354.0 308.5,354.0 309.7,354.0 310.9,354.0 312.1,354.0 313.3,354.1 314.6,354.1 315.8,354.1 317.0,354.1 318.2,354.1 319.4,354.1 320.6,354.2 321.8,354.2 323.1,354.2 324.3,354.2 325.5,354.2 326.7,354.3 327.9,354.3 329.1,354.3 330.4,354.3 331.6,354.3 332.8,354.4 334.0,354.4 335.2,354.4 336.4,354.4 337.7,354.4 338.9,354.5 340.1,354.5 341.3,354.5 342.5,354.5 343.7,354.6 345.0,354.6 346.2,354.6 347.4,354.6 348.6,354.7 349.8,354.7 351.0,354.7 352.3,354.7 353.5,354.7 354.7,354.8 355.9,354.8 357.1,354.8 358.3,354.8 359.5,354.9 360.8,354.9 362.0,354.9 363.2,354.9 364.4,355.0 365.6,355.0 366.8,355.0 368.1,355.0 369.3,355.1 370.5,355.1 371.7,355.1 372.9,355.2 374.1,355.2 375.4,355.2 376.6,355.3 377.8,355.3 379.0,355.3 380.2,355.4 381.4,355.4 382.7,355.5 383.9,355.5 385.1,355.5 386.3,355.6 387.5,355.6 388.7,355.7 389.9,355.7 391.2,355.7 392.4,355.8 393.6,355.8 394.8,355.9 396.0,355.9 397.2,355.9 398.5,356.0 399.7,356.0 400.9,356.1 402.1,356.1 403.3,356.2 404.5,356.2 405.8,356.2 407.0,356.3 408.2,356.3 409.4,356.4 410.6,356.4 411.8,356.5 413.1,356.5 414.3,356.6 415.5,356.6 416.7,356.7 417.9,356.7 419.1,356.8 420.4,356.8 421.6,356.9 422.8,356.9 424.0,357.0 425.2,357.1 426.4,357.1 427.6,357.2 428.9,357.3 430.1,357.3 431.3,357.4 432.5,357.5 433.7,357.5 434.9,357.6 436.2,357.7 437.4,357.8 438.6,357.9 439.8,357.9 441.0,358.0 442.2,358.1 443.5,358.2 444.7,358.2 445.9,358.3 447.1,358.4 448.3,358.5 449.5,358.5 450.8,358.6 452.0,358.7 453.2,358.8 454.4,358.8 455.6,358.9 456.8,359.0 458.1,359.1 459.3,359.1 460.5,359.2 461.7,359.3 462.9,359.4 464.1,359.5 465.3,359.5 466.6,359.6 467.8,359.7 469.0,359.8 470.2,359.8 471.4,359.9 472.6,360.0 473.9,360.0 475.1,360.1 476.3,360.2 477.5,360.2 478.7,360.3 479.9,360.3 481.2,360.4 482.4,360.4 483.6,360.4 484.8,360.5 486.0,360.5 487.2,360.5 488.5,360.5 489.7,360.6 490.9,360.6 492.1,360.6 493.3,360.6 494.5,360.7 495.8,360.7 497.0,360.7 498.2,360.7 499.4,360.8 500.6,360.8 501.8,360.8 503.0,360.8 504.3,360.8 505.5,360.9 506.7,360.9 507.9,360.9 509.1,360.9 510.3,360.9 511.6,361.0 512.8,361.0 514.0,361.0 515.2,361.0 516.4,361.0 517.6,361.0 518.9,361.1 520.1,361.1 521.3,361.1 522.5,361.1 523.7,361.1 524.9,361.1 526.2,361.1 527.4,361.2 528.6,361.2 529.8,361.2 531.0,361.2 532.2,361.2 533.4,361.2 534.7,361.2 535.9,361.2 537.1,361.2 538.3,361.2 539.5,361.3 540.7,361.3 542.0,361.3 543.2,361.3 544.4,361.3 545.6,361.3 546.8,361.3 548.0,361.3 549.3,361.3 550.5,361.3 551.7,361.3 552.9,361.3 554.1,361.3 555.3,361.3 556.6,361.3 557.8,361.4 559.0,361.4 560.2,361.4 561.4,361.4 562.6,361.4 563.9,361.4 565.1,361.4 566.3,361.4 567.5,361.4 568.7,361.4 569.9,361.4 571.1,361.4 572.4,361.4 573.6,361.4 574.8,361.4 576.0,361.4 577.2,361.4 578.4,361.4 579.7,361.4 580.9,361.4 582.1,361.4 583.3,361.4 584.5,361.4 585.7,361.4 587.0,361.4 588.2,361.4 589.4,361.5 590.6,361.5 591.8,361.5 593.0,361.5 594.3,361.5 595.5,361.5 596.7,361.5 597.9,361.5 599.1,361.5 600.3,361.5 601.6,361.5 602.8,361.5 604.0,361.5 605.2,361.5" stroke="#3f1f52"/>
<polyline points="137.0,361.9 138.2,361.9 139.4,361.9 140.6,361.9 141.9,361.9 143.1,361.9 144.3,361.9 145.5,361.9 146.7,361.9 147.9,361.8 149.2,361.8 150.4,361.8 151.6,361.8 152.8,361.8 154.0,361.7 155.2,361.7 156.5,361.7 157.7,361.6 158.9,361.6 160.1,361.6 161.3,361.5 162.5,361.5 163.8,361.4 165.0,361.4 166.2,361.4 167.4,361.3 168.6,361.3 169.8,361.2 171.1,361.1 172.3,361.0 173.5,360.9 174.7,360.8 175.9,360.7 177.1,360.6 178.3,360.4 179.6,360.3 180.8,360.2 182.0,360.0 183.2,359.9 184.4,359.7 185.6,359.6 186.9,359.4 188.1,359.2 189.3,359.0 190.5,358.7 191.7,358.5 192.9,358.2 194.2,357.9 195.4,357.7 196.6,357.4 197.8,357.1 199.0,356.9 200.2,356.6 201.5,356.4 202.7,356.2 203.9,356.0 205.1,355.9 206.3,355.7 207.5,355.6 208.8,355.4 210.0,355.3 211.2,355.2 212.4,355.0 213.6,354.9 214.8,354.8 216.0,354.7 217.3,354.6 218.5,354.5 219.7,354.5 220.9,354.4 222.1,354.4 223.3,354.3 224.6,354.3 225.8,354.3 227.0,354.3 228.2,354.3 229.4,354.2 230.6,354.2 231.9,354.2 233.1,354.2 234.3,354.2 235.5,354.2 236.7,354.2 237.9,354.2 239.2,354.2 240.4,354.2 241.6,354.2 242.8,354.2 244.0,354.2 245.2,354.2 246.4,354.2 247.7,354.2 248.9,354.2 250.1,354.2 251.3,354.2 252.5,354.2 253.7,354.2 255.0,354.2 256.2,354.2 257.4,354.2 258.6,354.2 259.8,354.3 261.0,354.3 262.3,354.3 263.5,354.3 264.7,354.3 265.9,354.3 267.1,354.3 268.3,354.3 269.6,354.3 270.8,354.3 272.0,354.3 273.2,354.3 274.4,354.3 275.6,354.4 276.9,354.4 278.1,354.4 279.3,354.4 280.5,354.4 281.7,354.4 282.9,354.4 284.1,354.4 285.4,354.4 286.6,354.4 287.8,354.4 289.0,354.4 290.2,354.5 291.4,354.5 292.7,354.5 293.9,354.5 295.1,354.5 296.3,354.5 297.5,354.5 298.7,354.5 300.0,354.5 301.2,354.5 302.4,354.5 303.6,354.5 304.8,354.5 306.0,354.5 307.3,354.6 308.5,354.6 309.7,354.6 310.9,354.6 312.1,354.6 313.3,354.6 314.6,354.6 315.8,354.6 317.0,354.6 318.2,354.6 319.4,354.6 320.6,354.6 321.8,354.6 323.1,354.6 324.3,354.7 325.5,354.7 326.7,354.7 327.9,354.7 329.1,354.7 330.4,354.7 331.6,354.7 332.8,354.7 334.0,354.7 335.2,354.8 336.4,354.8 337.7,354.8 338.9,354.8 340.1,354.8 341.3,354.8 342.5,354.8 343.7,354.9 345.0,354.9 346.2,354.9 347.4,354.9 348.6,354.9 349.8,354.9 351.0,354.9 352.3,355.0 353.5,355.0 354.7,355.0 355.9,355.0 357.1,355.0 358.3,355.0 359.5,355.1 360.8,355.1 362.0,355.1 363.2,355.1 364.4,355.1 365.6,355.2 366.8,355.2 368.1,355.2 369.3,355.2 370.5,355.3 371.7,355.3 372.9,355.3 374.1,355.3 375.4,355.4 376.6,355.4 377.8,355.4 379.0,355.5 380.2,355.5 381.4,355.5 382.7,355.6 383.9,355.6 385.1,355.7 386.3,355.7 387.5,355.7 388.7,355.8 389.9,355.8 391.2,355.8 392.4,355.9 393.6,355.9 394.8,355.9 396.0,356.0 397.2,356.0 398.5,356.1 399.7,356.1 400.9,356.1 402.1,356.2 403.3,356.2 404.5,356.3 405.8,356.3 407.0,356.3 408.2,356.4 409.4,356.4 410.6,356.5 411.8,356.5 413.1,356.6 414.3,356.6 415.5,356.7 416.7,356.7 417.9,356.8 419.1,356.8 420.4,356.9 421.6,356.9 422.8,357.0 424.0,357.0 425.2,357.1 426.4,357.2 427.6,357.2 428.9,357.3 430.1,357.3 431.3,357.4 432.5,357.5 433.7,357.6 434.9,357.6 436.2,357.7 437.4,357.8 438.6,357.9 439.8,357.9 441.0,358.0 442.2,358.1 443.5,358.2 444.7,358.3 445.9,358.3 447.1,358.4 448.3,358.5 449.5,358.6 450.8,358.6 452.0,358.7 453.2,358.8 454.4,358.8 455.6,358.9 456.8,359.0 458.1,359.1 459.3,359.1 460.5,359.2 461.7,359.3 462.9,359.4 464.1,359.5 465.3,359.5 466.6,359.6 467.8,359.7 469.0,359.8 470.2,359.8 471.4,359.9 472.6,360.0 473.9,360.0 475.1,360.1 476.3,360.2 477.5,360.2 478.7,360.3 479.9,360.3 481.2,360.4 482.4,360.4 483.6,360.4 484.8,360.5 486.0,360.5 487.2,360.5 488.5,360.5 489.7,360.6 490.9,360.6 492.1,360.6 493.3,360.6 494.5,360.7 495.8,360.7 497.0,360.7 498.2,360.7 499.4,360.8 500.6,360.8 501.8,360.8 503.0,360.8 504.3,360.8 505.5,360.9 506.7,360.9 507.9,360.9 509.1,360.9 510.3,360.9 511.6,361.0 512.8,361.0 514.0,361.0 515.2,361.0 516.4,361.0 517.6,361.0 518.9,361.1 520.1,361.1 521.3,361.1 522.5,361.1 523.7,361.1 524.9,361.1 526.2,361.1 527.4,361.2 528.6,361.2 529.8,361.2 531.0,361.2 532.2,361.2 533.4,361.2 534.7,361.2 535.9,361.2 537.1,361.2 538.3,361.2 539.5,361.3 540.7,361.3 542.0,361.3 543.2,361.3 544.4,361.3 545.6,361.3 546.8,361.3 548.0,361.3 549.3,361.3 550.5,361.3 551.7,361.3 552.9,361.3 554.1,361.3 555.3,361.3 556.6,361.3 557.8,361.4 559.0,361.4 560.2,361.4 561.4,361.4 562.6,361.4 563.9,361.4 565.1,361.4 566.3,361.4 567.5,361.4 568.7,361.4 569.9,361.4 571.1,361.4 572.4,361.4 573.6,361.4 574.8,361.4 576.0,361.4 577.2,361.4 578.4,361.4 579.7,361.4 580.9,361.4 582.1,361.4 583.3,361.4 584.5,361.4 585.7,361.4 587.0,361.4 588.2,361.4 589.4,361.5 590.6,361.5 591.8,361.5 593.0,361.5 594.3,361.5 595.5,361.5 596.7,361.5 597.9,361.5 599.1,361.5 600.3,361.5 601.6,361.5 602.8,361.5 604.0,361.5 605.2,361.5" stroke="#e0303a"/>
</g>
<rect x="137.0" y="13.2" width="468.20000000000005" height="348.8" fill="none" stroke="#3a3a3a" stroke-width="1.6"/>
<line x1="149.16" y1="362" x2="149.16" y2="366" stroke="#3a3a3a" stroke-width="1.6" />
<line x1="179.56" y1="362" x2="179.56" y2="369" stroke="#3a3a3a" stroke-width="1.6" />
<line x1="209.97" y1="362" x2="209.97" y2="366" stroke="#3a3a3a" stroke-width="1.6" />
<line x1="240.37" y1="362" x2="240.37" y2="369" stroke="#3a3a3a" stroke-width="1.6" />
<line x1="270.77" y1="362" x2="270.77" y2="366" stroke="#3a3a3a" stroke-width="1.6" />
<line x1="301.17" y1="362" x2="301.17" y2="369" stroke="#3a3a3a" stroke-width="1.6" />
<line x1="331.58" y1="362" x2="331.58" y2="366" stroke="#3a3a3a" stroke-width="1.6" />
<line x1="361.98" y1="362" x2="361.98" y2="369" stroke="#3a3a3a" stroke-width="1.6" />
<line x1="392.38" y1="362" x2="392.38" y2="366" stroke="#3a3a3a" stroke-width="1.6" />
<line x1="422.78" y1="362" x2="422.78" y2="369" stroke="#3a3a3a" stroke-width="1.6" />
<line x1="453.19" y1="362" x2="453.19" y2="366" stroke="#3a3a3a" stroke-width="1.6" />
<line x1="483.59" y1="362" x2="483.59" y2="369" stroke="#3a3a3a" stroke-width="1.6" />
<line x1="513.99" y1="362" x2="513.99" y2="366" stroke="#3a3a3a" stroke-width="1.6" />
<line x1="544.39" y1="362" x2="544.39" y2="369" stroke="#3a3a3a" stroke-width="1.6" />
<line x1="574.8" y1="362" x2="574.8" y2="366" stroke="#3a3a3a" stroke-width="1.6" />
<line x1="605.2" y1="362" x2="605.2" y2="369" stroke="#3a3a3a" stroke-width="1.6" />
<text transform="translate(162.21,390)" fill="#1c1c1c" stroke="#1c1c1c" stroke-width="0.25"><tspan x="0" y="0" font-size="21">450</tspan></text>
<text transform="translate(222.84,390)" fill="#1c1c1c" stroke="#1c1c1c" stroke-width="0.25"><tspan x="0" y="0" font-size="21">500</tspan></text>
<text transform="translate(283.64,390)" fill="#1c1c1c" stroke="#1c1c1c" stroke-width="0.25"><tspan x="0" y="0" font-size="21">550</tspan></text>
<text transform="translate(344.34,390)" fill="#1c1c1c" stroke="#1c1c1c" stroke-width="0.25"><tspan x="0" y="0" font-size="21">600</tspan></text>
<text transform="translate(405.14,390)" fill="#1c1c1c" stroke="#1c1c1c" stroke-width="0.25"><tspan x="0" y="0" font-size="21">650</tspan></text>
<text transform="translate(465.94,390)" fill="#1c1c1c" stroke="#1c1c1c" stroke-width="0.25"><tspan x="0" y="0" font-size="21">700</tspan></text>
<text transform="translate(526.75,390)" fill="#1c1c1c" stroke="#1c1c1c" stroke-width="0.25"><tspan x="0" y="0" font-size="21">750</tspan></text>
<text transform="translate(587.64,390)" fill="#1c1c1c" stroke="#1c1c1c" stroke-width="0.25"><tspan x="0" y="0" font-size="21">800</tspan></text>
<line x1="137" y1="362" x2="130" y2="362" stroke="#3a3a3a" stroke-width="1.6" />
<line x1="137" y1="327.12" x2="133" y2="327.12" stroke="#3a3a3a" stroke-width="1.6" />
<line x1="137" y1="292.24" x2="130" y2="292.24" stroke="#3a3a3a" stroke-width="1.6" />
<line x1="137" y1="257.36" x2="133" y2="257.36" stroke="#3a3a3a" stroke-width="1.6" />
<line x1="137" y1="222.48" x2="130" y2="222.48" stroke="#3a3a3a" stroke-width="1.6" />
<line x1="137" y1="187.6" x2="133" y2="187.6" stroke="#3a3a3a" stroke-width="1.6" />
<line x1="137" y1="152.72" x2="130" y2="152.72" stroke="#3a3a3a" stroke-width="1.6" />
<line x1="137" y1="117.84" x2="133" y2="117.84" stroke="#3a3a3a" stroke-width="1.6" />
<line x1="137" y1="82.96" x2="130" y2="82.96" stroke="#3a3a3a" stroke-width="1.6" />
<line x1="137" y1="48.08" x2="133" y2="48.08" stroke="#3a3a3a" stroke-width="1.6" />
<line x1="137" y1="13.2" x2="130" y2="13.2" stroke="#3a3a3a" stroke-width="1.6" />
<text transform="translate(113.44,369.2)" fill="#1c1c1c" stroke="#1c1c1c" stroke-width="0.25"><tspan x="0" y="0" font-size="21">0</tspan></text>
<text transform="translate(78.4,299.44)" fill="#1c1c1c" stroke="#1c1c1c" stroke-width="0.25"><tspan x="0" y="0" font-size="21">2000</tspan></text>
<text transform="translate(78.4,229.68)" fill="#1c1c1c" stroke="#1c1c1c" stroke-width="0.25"><tspan x="0" y="0" font-size="21">4000</tspan></text>
<text transform="translate(78.4,159.92)" fill="#1c1c1c" stroke="#1c1c1c" stroke-width="0.25"><tspan x="0" y="0" font-size="21">6000</tspan></text>
<text transform="translate(78.4,90.16)" fill="#1c1c1c" stroke="#1c1c1c" stroke-width="0.25"><tspan x="0" y="0" font-size="21">8000</tspan></text>
<text transform="translate(66.72,20.4)" fill="#1c1c1c" stroke="#1c1c1c" stroke-width="0.25"><tspan x="0" y="0" font-size="21">10000</tspan></text>
<text transform="translate(61,276.04) rotate(-90)" fill="#1c1c1c" stroke="#1c1c1c" stroke-width="0.25"><tspan x="0" y="0" font-size="21.2">PL Intensity (a.u.)</tspan></text>
<text transform="translate(284.21,419.8)" fill="#1c1c1c" stroke="#1c1c1c" stroke-width="0.25"><tspan x="0" y="0" font-size="21.03">Wavelength (nm)</tspan></text>
<text transform="translate(332.59,451.1) scale(0.74,1)" fill="#1c1c1c" stroke="#1c1c1c" stroke-width="0.7"><tspan x="0" y="0" font-size="28.5">(</tspan></text>
<text transform="translate(341.68,452.6) scale(0.77,1)" fill="#1c1c1c" stroke="#1c1c1c" stroke-width="0.6"><tspan x="0" y="0" font-size="25">a</tspan></text>
<text transform="translate(356.68,451.1) scale(0.74,1)" fill="#1c1c1c" stroke="#1c1c1c" stroke-width="0.7"><tspan x="0" y="0" font-size="28.5">)</tspan></text>
<text transform="translate(272.88,66.8)" fill="#1c1c1c" stroke="#1c1c1c" stroke-width="0.25"><tspan x="0" y="0" font-size="20.95">Fe</tspan></text>
<text transform="translate(297.73,58.4)" fill="#1c1c1c" stroke="#1c1c1c" stroke-width="0.25"><tspan x="0" y="0" font-size="20.23">3+</tspan></text>
<text transform="translate(327.64,66.8)" fill="#1c1c1c" stroke="#1c1c1c" stroke-width="0.25"><tspan x="0" y="0" font-size="20.92">Concentration</tspan></text>
<text transform="translate(491.8,66.8)" fill="#1c1c1c" stroke="#1c1c1c" stroke-width="0.25"><tspan x="0" y="0" font-size="20.75">PL Intensity</tspan></text>
<text transform="translate(347.16,106.2)" fill="#1c1c1c" stroke="#1c1c1c" stroke-width="0.25"><tspan x="0" y="0" font-size="18.83">0</tspan></text>
<text transform="translate(358.14,106.2)" fill="#1c1c1c" stroke="#1c1c1c" stroke-width="0.25"><tspan x="0" y="0" font-size="20.53" font-family="Liberation Serif">μ</tspan></text>
<text transform="translate(369.77,106.2)" fill="#1c1c1c" stroke="#1c1c1c" stroke-width="0.25"><tspan x="0" y="0" font-size="21.08">M</tspan></text>
<text transform="translate(527.73,104.6)" fill="#1c1c1c" stroke="#1c1c1c" stroke-width="0.25"><tspan x="0" y="0" font-size="20.76">9178</tspan></text>
<text transform="translate(342.59,258.3)" fill="#75743a" stroke="#75743a" stroke-width="0.25"><tspan x="0" y="0" font-size="18.55">30</tspan></text>
<text transform="translate(364.82,258.3)" fill="#75743a" stroke="#75743a" stroke-width="0.25"><tspan x="0" y="0" font-size="20.77" font-family="Liberation Serif">μ</tspan></text>
<text transform="translate(376.32,258.3)" fill="#75743a" stroke="#75743a" stroke-width="0.25"><tspan x="0" y="0" font-size="21.68">M</tspan></text>
<text transform="translate(524.25,258.3)" fill="#75743a" stroke="#75743a" stroke-width="0.25"><tspan x="0" y="0" font-size="20.83">230.5</tspan></text>
<line x1="364.3" y1="118" x2="364.3" y2="227" stroke="#222" stroke-width="1.4" />
<path d="M361.4,225.5 L367.2,225.5 L364.9,234.5 Q364.3,236 363.7,234.5 Z" fill="#111"/>
<line x1="549.6" y1="114.9" x2="549.6" y2="224" stroke="#222" stroke-width="1.4" />
<path d="M546.7,223.0 L552.5,223.0 L550.2,231.8 Q549.6,233.3 549.0,231.8 Z" fill="#111"/>
</g>
<rect x="700.6" y="16.1" width="468.2" height="348.0" fill="none" stroke="#3a3a3a" stroke-width="1.6"/>
<line x1="700.6" y1="364.1" x2="700.6" y2="367.6" stroke="#3a3a3a" stroke-width="1.6" />
<line x1="734.04" y1="364.1" x2="734.04" y2="370.1" stroke="#3a3a3a" stroke-width="1.6" />
<line x1="767.49" y1="364.1" x2="767.49" y2="367.6" stroke="#3a3a3a" stroke-width="1.6" />
<line x1="800.93" y1="364.1" x2="800.93" y2="370.1" stroke="#3a3a3a" stroke-width="1.6" />
<line x1="834.37" y1="364.1" x2="834.37" y2="367.6" stroke="#3a3a3a" stroke-width="1.6" />
<line x1="867.81" y1="364.1" x2="867.81" y2="370.1" stroke="#3a3a3a" stroke-width="1.6" />
<line x1="901.26" y1="364.1" x2="901.26" y2="367.6" stroke="#3a3a3a" stroke-width="1.6" />
<line x1="934.7" y1="364.1" x2="934.7" y2="370.1" stroke="#3a3a3a" stroke-width="1.6" />
<line x1="968.14" y1="364.1" x2="968.14" y2="367.6" stroke="#3a3a3a" stroke-width="1.6" />
<line x1="1001.59" y1="364.1" x2="1001.59" y2="370.1" stroke="#3a3a3a" stroke-width="1.6" />
<line x1="1035.03" y1="364.1" x2="1035.03" y2="367.6" stroke="#3a3a3a" stroke-width="1.6" />
<line x1="1068.47" y1="364.1" x2="1068.47" y2="370.1" stroke="#3a3a3a" stroke-width="1.6" />
<line x1="1101.91" y1="364.1" x2="1101.91" y2="367.6" stroke="#3a3a3a" stroke-width="1.6" />
<line x1="1135.36" y1="364.1" x2="1135.36" y2="370.1" stroke="#3a3a3a" stroke-width="1.6" />
<line x1="1168.8" y1="364.1" x2="1168.8" y2="367.6" stroke="#3a3a3a" stroke-width="1.6" />
<text transform="translate(728.2,391.5)" fill="#1c1c1c" stroke="#1c1c1c" stroke-width="0.25"><tspan x="0" y="0" font-size="21">0</tspan></text>
<text transform="translate(795.11,391.5)" fill="#1c1c1c" stroke="#1c1c1c" stroke-width="0.25"><tspan x="0" y="0" font-size="21">5</tspan></text>
<text transform="translate(855.75,391.5)" fill="#1c1c1c" stroke="#1c1c1c" stroke-width="0.25"><tspan x="0" y="0" font-size="21">10</tspan></text>
<text transform="translate(922.66,391.5)" fill="#1c1c1c" stroke="#1c1c1c" stroke-width="0.25"><tspan x="0" y="0" font-size="21">15</tspan></text>
<text transform="translate(989.79,391.5)" fill="#1c1c1c" stroke="#1c1c1c" stroke-width="0.25"><tspan x="0" y="0" font-size="21">20</tspan></text>
<text transform="translate(1056.71,391.5)" fill="#1c1c1c" stroke="#1c1c1c" stroke-width="0.25"><tspan x="0" y="0" font-size="21">25</tspan></text>
<text transform="translate(1123.69,391.5)" fill="#1c1c1c" stroke="#1c1c1c" stroke-width="0.25"><tspan x="0" y="0" font-size="21">30</tspan></text>
<line x1="700.6" y1="364.1" x2="697.1" y2="364.1" stroke="#3a3a3a" stroke-width="1.6" />
<line x1="700.6" y1="329.3" x2="694.6" y2="329.3" stroke="#3a3a3a" stroke-width="1.6" />
<line x1="700.6" y1="294.5" x2="697.1" y2="294.5" stroke="#3a3a3a" stroke-width="1.6" />
<line x1="700.6" y1="259.7" x2="694.6" y2="259.7" stroke="#3a3a3a" stroke-width="1.6" />
<line x1="700.6" y1="224.9" x2="697.1" y2="224.9" stroke="#3a3a3a" stroke-width="1.6" />
<line x1="700.6" y1="190.1" x2="694.6" y2="190.1" stroke="#3a3a3a" stroke-width="1.6" />
<line x1="700.6" y1="155.3" x2="697.1" y2="155.3" stroke="#3a3a3a" stroke-width="1.6" />
<line x1="700.6" y1="120.5" x2="694.6" y2="120.5" stroke="#3a3a3a" stroke-width="1.6" />
<line x1="700.6" y1="85.7" x2="697.1" y2="85.7" stroke="#3a3a3a" stroke-width="1.6" />
<line x1="700.6" y1="50.9" x2="694.6" y2="50.9" stroke="#3a3a3a" stroke-width="1.6" />
<line x1="700.6" y1="16.1" x2="697.1" y2="16.1" stroke="#3a3a3a" stroke-width="1.6" />
<text transform="translate(677.94,336.5)" fill="#1c1c1c" stroke="#1c1c1c" stroke-width="0.25"><tspan x="0" y="0" font-size="21">0</tspan></text>
<text transform="translate(666.26,266.9)" fill="#1c1c1c" stroke="#1c1c1c" stroke-width="0.25"><tspan x="0" y="0" font-size="21">10</tspan></text>
<text transform="translate(666.26,197.3)" fill="#1c1c1c" stroke="#1c1c1c" stroke-width="0.25"><tspan x="0" y="0" font-size="21">20</tspan></text>
<text transform="translate(666.26,127.7)" fill="#1c1c1c" stroke="#1c1c1c" stroke-width="0.25"><tspan x="0" y="0" font-size="21">30</tspan></text>
<text transform="translate(666.26,58.1)" fill="#1c1c1c" stroke="#1c1c1c" stroke-width="0.25"><tspan x="0" y="0" font-size="21">40</tspan></text>
<text transform="translate(650,210.74) rotate(-90)" fill="#1c1c1c" stroke="#1c1c1c" stroke-width="0.25"><tspan x="0" y="0" font-size="21">I</tspan></text>
<text transform="translate(650,204.12) rotate(-90)" fill="#1c1c1c" stroke="#1c1c1c" stroke-width="0.25"><tspan x="0" y="6.3" font-size="18.5">0</tspan></text>
<text transform="translate(650,192.6) rotate(-90)" fill="#1c1c1c" stroke="#1c1c1c" stroke-width="0.25"><tspan x="0" y="0" font-size="21">/</tspan></text>
<text transform="translate(650,187.44) rotate(-90)" fill="#1c1c1c" stroke="#1c1c1c" stroke-width="0.25"><tspan x="0" y="0" font-size="21">I</tspan></text>
<text transform="translate(650,182.31) rotate(-90)" fill="#1c1c1c" stroke="#1c1c1c" stroke-width="0.25"><tspan x="0" y="6.3" font-size="18.5">1</tspan></text>
<text transform="translate(774.71,420.8)" fill="#1c1c1c" stroke="#1c1c1c" stroke-width="0.25"><tspan x="0" y="0" font-size="20.66">Fe</tspan></text>
<text transform="translate(799.53,412)" fill="#1c1c1c" stroke="#1c1c1c" stroke-width="0.25"><tspan x="0" y="0" font-size="20.33">3+</tspan></text>
<text transform="translate(829.64,420.8)" fill="#1c1c1c" stroke="#1c1c1c" stroke-width="0.25"><tspan x="0" y="0" font-size="20.8">Concentration</tspan></text>
<text transform="translate(965.7,421.3)" fill="#1c1c1c"><tspan x="0" y="0" font-size="14.5">(</tspan></text>
<text transform="translate(970.72,421)" fill="#1c1c1c"><tspan x="0" y="0" font-size="17">×</tspan></text>
<text transform="translate(982.1,420.8)" fill="#1c1c1c" stroke="#1c1c1c" stroke-width="0.25"><tspan x="0" y="0" font-size="19.66">10</tspan></text>
<text transform="translate(1005.02,412.3)" fill="#1c1c1c" stroke="#1c1c1c" stroke-width="0.25"><tspan x="0" y="0" font-size="19.73">-6</tspan></text>
<text transform="translate(1023.61,420.8)" fill="#1c1c1c" stroke="#1c1c1c" stroke-width="0.25"><tspan x="0" y="0" font-size="20.97">mol/L</tspan></text>
<text transform="translate(1074.87,421.3)" fill="#1c1c1c"><tspan x="0" y="0" font-size="14.5">)</tspan></text>
<text transform="translate(910.09,458.2) scale(0.74,1)" fill="#1c1c1c" stroke="#1c1c1c" stroke-width="0.7"><tspan x="0" y="0" font-size="28.5">(</tspan></text>
<text transform="translate(919.38,458.5) scale(0.95,1)" fill="#1c1c1c" stroke="#1c1c1c" stroke-width="0.6"><tspan x="0" y="0" font-size="26.5">b</tspan></text>
<text transform="translate(935.58,458.2) scale(0.74,1)" fill="#1c1c1c" stroke="#1c1c1c" stroke-width="0.7"><tspan x="0" y="0" font-size="28.5">)</tspan></text>
<circle cx="734.0" cy="322.7" r="4.4" fill="#111"/>
<circle cx="760.8" cy="321.3" r="4.4" fill="#111"/>
<circle cx="787.6" cy="319.3" r="4.4" fill="#111"/>
<circle cx="814.3" cy="316.4" r="4.4" fill="#111"/>
<circle cx="841.1" cy="313.0" r="4.4" fill="#111"/>
<circle cx="867.8" cy="306.3" r="4.4" fill="#111"/>
<circle cx="894.6" cy="297.7" r="4.4" fill="#111"/>
<circle cx="921.3" cy="288.0" r="4.4" fill="#111"/>
<circle cx="948.1" cy="275.5" r="4.4" fill="#111"/>
<circle cx="974.8" cy="256.2" r="4.4" fill="#111"/>
<circle cx="1001.6" cy="241.6" r="4.4" fill="#111"/>
<circle cx="1028.3" cy="208.9" r="4.4" fill="#111"/>
<circle cx="1055.1" cy="181.7" r="4.4" fill="#111"/>
<circle cx="1081.8" cy="139.3" r="4.4" fill="#111"/>
<circle cx="1108.6" cy="98.2" r="4.4" fill="#111"/>
<circle cx="1135.4" cy="52.3" r="4.4" fill="#111"/>
<rect x="742.4" y="25.5" width="240.3" height="143.7" fill="#fff" stroke="#6a6a6a" stroke-width="1.2"/>
<line x1="769.1" y1="169.2" x2="769.1" y2="171.7" stroke="#6a6a6a" stroke-width="1.1" />
<line x1="795.8" y1="169.2" x2="795.8" y2="170.7" stroke="#6a6a6a" stroke-width="1.1" />
<line x1="822.5" y1="169.2" x2="822.5" y2="171.7" stroke="#6a6a6a" stroke-width="1.1" />
<line x1="849.2" y1="169.2" x2="849.2" y2="170.7" stroke="#6a6a6a" stroke-width="1.1" />
<line x1="875.9" y1="169.2" x2="875.9" y2="171.7" stroke="#6a6a6a" stroke-width="1.1" />
<line x1="902.6" y1="169.2" x2="902.6" y2="170.7" stroke="#6a6a6a" stroke-width="1.1" />
<line x1="929.3" y1="169.2" x2="929.3" y2="171.7" stroke="#6a6a6a" stroke-width="1.1" />
<line x1="956" y1="169.2" x2="956" y2="170.7" stroke="#6a6a6a" stroke-width="1.1" />
<line x1="982.7" y1="169.2" x2="982.7" y2="171.7" stroke="#6a6a6a" stroke-width="1.1" />
<text transform="translate(765.28,185.3) scale(1.1,1)" fill="#262626" stroke="#262626" stroke-width="0.2"><tspan x="0" y="0" font-size="12.5">0</tspan></text>
<text transform="translate(818.72,185.3) scale(1.1,1)" fill="#262626" stroke="#262626" stroke-width="0.2"><tspan x="0" y="0" font-size="12.5">4</tspan></text>
<text transform="translate(872.08,185.3) scale(1.1,1)" fill="#262626" stroke="#262626" stroke-width="0.2"><tspan x="0" y="0" font-size="12.5">8</tspan></text>
<text transform="translate(921.47,185.3) scale(1.1,1)" fill="#262626" stroke="#262626" stroke-width="0.2"><tspan x="0" y="0" font-size="12.5">12</tspan></text>
<text transform="translate(974.83,185.3) scale(1.1,1)" fill="#262626" stroke="#262626" stroke-width="0.2"><tspan x="0" y="0" font-size="12.5">16</tspan></text>
<line x1="742.4" y1="148.67" x2="740.9" y2="148.67" stroke="#6a6a6a" stroke-width="1.1" />
<line x1="742.4" y1="128.14" x2="739.9" y2="128.14" stroke="#6a6a6a" stroke-width="1.1" />
<line x1="742.4" y1="107.61" x2="740.9" y2="107.61" stroke="#6a6a6a" stroke-width="1.1" />
<line x1="742.4" y1="87.09" x2="739.9" y2="87.09" stroke="#6a6a6a" stroke-width="1.1" />
<line x1="742.4" y1="66.56" x2="740.9" y2="66.56" stroke="#6a6a6a" stroke-width="1.1" />
<line x1="742.4" y1="46.03" x2="739.9" y2="46.03" stroke="#6a6a6a" stroke-width="1.1" />
<text transform="translate(730.69,173.7) scale(1.1,1)" fill="#262626" stroke="#262626" stroke-width="0.2"><tspan x="0" y="0" font-size="12.5">0</tspan></text>
<text transform="translate(730.84,132.64) scale(1.1,1)" fill="#262626" stroke="#262626" stroke-width="0.2"><tspan x="0" y="0" font-size="12.5">2</tspan></text>
<text transform="translate(730.56,91.59) scale(1.1,1)" fill="#262626" stroke="#262626" stroke-width="0.2"><tspan x="0" y="0" font-size="12.5">4</tspan></text>
<text transform="translate(730.76,50.53) scale(1.1,1)" fill="#262626" stroke="#262626" stroke-width="0.2"><tspan x="0" y="0" font-size="12.5">6</tspan></text>
<line x1="769.1" y1="162.3" x2="956.0" y2="63.4" stroke="#e07070" stroke-width="1.1"/>
<circle cx="769.1" cy="148.9" r="1.9" fill="#111"/>
<circle cx="795.8" cy="144.4" r="1.9" fill="#111"/>
<circle cx="822.5" cy="138.2" r="1.9" fill="#111"/>
<circle cx="849.2" cy="130.2" r="1.9" fill="#111"/>
<circle cx="875.9" cy="120.5" r="1.9" fill="#111"/>
<circle cx="902.6" cy="100.4" r="1.9" fill="#111"/>
<circle cx="929.3" cy="74.8" r="1.9" fill="#111"/>
<circle cx="956.0" cy="46.0" r="1.9" fill="#111"/>
<text transform="translate(754.57,44.1) scale(1.1,1)" fill="#262626" stroke="#262626" stroke-width="0.2"><tspan x="0" y="0" font-size="12.4">y= 0.34437x+0.3343</tspan></text>
<text transform="translate(754.06,69.5) scale(1.1,1)" fill="#262626" stroke="#262626" stroke-width="0.2"><tspan x="0" y="0" font-size="12.6">R</tspan><tspan x="9.1" y="-6.5" font-size="11.5">2</tspan><tspan x="15.5" y="0" font-size="12.6">= 0.88679</tspan></text>
<text transform="translate(718.8,118.2) rotate(-90)" fill="#262626" stroke="#262626" stroke-width="0.2"><tspan x="0" y="0" font-size="13">I</tspan></text>
<text transform="translate(718.8,115.45) rotate(-90)" fill="#262626" stroke="#262626" stroke-width="0.2"><tspan x="0" y="2.9" font-size="14">0</tspan></text>
<text transform="translate(718.8,105.7) rotate(-90)" fill="#262626" stroke="#262626" stroke-width="0.2"><tspan x="0" y="0" font-size="13">/</tspan></text>
<text transform="translate(718.8,102) rotate(-90)" fill="#262626" stroke="#262626" stroke-width="0.2"><tspan x="0" y="0" font-size="13">I</tspan></text>
<text transform="translate(718.8,98.47) rotate(-90)" fill="#262626" stroke="#262626" stroke-width="0.2"><tspan x="0" y="2.9" font-size="14">1</tspan></text>
<text transform="translate(762,205.6) scale(1.1,1)" fill="#262626" stroke="#262626" stroke-width="0.2"><tspan x="0" y="0" font-size="12.23">Fe</tspan></text>
<text transform="translate(779.4,201.5) scale(1.1,1)" fill="#262626" stroke="#262626" stroke-width="0.2"><tspan x="0" y="0" font-size="11.92">3+</tspan></text>
<text transform="translate(799.28,205.6) scale(1.1,1)" fill="#262626" stroke="#262626" stroke-width="0.2"><tspan x="0" y="0" font-size="12.84">Concentration</tspan></text>
<text transform="translate(892.49,205.3)" fill="#262626" stroke="#262626" stroke-width="0.2"><tspan x="0" y="0" font-size="11.5">(</tspan></text>
<text transform="translate(896.82,205)" fill="#262626" stroke="#262626" stroke-width="0.15"><tspan x="0" y="0" font-size="8.5">×</tspan></text>
<text transform="translate(901.6,205.6) scale(1.1,1)" fill="#262626" stroke="#262626" stroke-width="0.2"><tspan x="0" y="0" font-size="11.94">10</tspan></text>
<text transform="translate(917.12,201.2) scale(1.1,1)" fill="#262626" stroke="#262626" stroke-width="0.2"><tspan x="0" y="0" font-size="13.85">-6</tspan></text>
<text transform="translate(930.56,205.6) scale(1.1,1)" fill="#262626" stroke="#262626" stroke-width="0.2"><tspan x="0" y="0" font-size="12.83">mol/L</tspan></text>
<text transform="translate(966.83,205.3)" fill="#262626" stroke="#262626" stroke-width="0.2"><tspan x="0" y="0" font-size="11.5">)</tspan></text>
<rect x="427.8" y="471.5" width="444.7" height="330.4" fill="none" stroke="#3a3a3a" stroke-width="1.6"/>
<line x1="427.8" y1="801.9" x2="427.8" y2="807.9" stroke="#3a3a3a" stroke-width="1.6" />
<line x1="444.9" y1="801.9" x2="444.9" y2="805.1" stroke="#3a3a3a" stroke-width="1.6" />
<line x1="462.01" y1="801.9" x2="462.01" y2="805.1" stroke="#3a3a3a" stroke-width="1.6" />
<line x1="479.11" y1="801.9" x2="479.11" y2="805.1" stroke="#3a3a3a" stroke-width="1.6" />
<line x1="496.22" y1="801.9" x2="496.22" y2="805.1" stroke="#3a3a3a" stroke-width="1.6" />
<line x1="513.32" y1="801.9" x2="513.32" y2="807.9" stroke="#3a3a3a" stroke-width="1.6" />
<line x1="530.42" y1="801.9" x2="530.42" y2="805.1" stroke="#3a3a3a" stroke-width="1.6" />
<line x1="547.53" y1="801.9" x2="547.53" y2="805.1" stroke="#3a3a3a" stroke-width="1.6" />
<line x1="564.63" y1="801.9" x2="564.63" y2="805.1" stroke="#3a3a3a" stroke-width="1.6" />
<line x1="581.74" y1="801.9" x2="581.74" y2="805.1" stroke="#3a3a3a" stroke-width="1.6" />
<line x1="598.84" y1="801.9" x2="598.84" y2="807.9" stroke="#3a3a3a" stroke-width="1.6" />
<line x1="615.94" y1="801.9" x2="615.94" y2="805.1" stroke="#3a3a3a" stroke-width="1.6" />
<line x1="633.05" y1="801.9" x2="633.05" y2="805.1" stroke="#3a3a3a" stroke-width="1.6" />
<line x1="650.15" y1="801.9" x2="650.15" y2="805.1" stroke="#3a3a3a" stroke-width="1.6" />
<line x1="667.26" y1="801.9" x2="667.26" y2="805.1" stroke="#3a3a3a" stroke-width="1.6" />
<line x1="684.36" y1="801.9" x2="684.36" y2="807.9" stroke="#3a3a3a" stroke-width="1.6" />
<line x1="701.46" y1="801.9" x2="701.46" y2="805.1" stroke="#3a3a3a" stroke-width="1.6" />
<line x1="718.57" y1="801.9" x2="718.57" y2="805.1" stroke="#3a3a3a" stroke-width="1.6" />
<line x1="735.67" y1="801.9" x2="735.67" y2="805.1" stroke="#3a3a3a" stroke-width="1.6" />
<line x1="752.78" y1="801.9" x2="752.78" y2="805.1" stroke="#3a3a3a" stroke-width="1.6" />
<line x1="769.88" y1="801.9" x2="769.88" y2="807.9" stroke="#3a3a3a" stroke-width="1.6" />
<line x1="786.98" y1="801.9" x2="786.98" y2="805.1" stroke="#3a3a3a" stroke-width="1.6" />
<line x1="804.09" y1="801.9" x2="804.09" y2="805.1" stroke="#3a3a3a" stroke-width="1.6" />
<line x1="821.19" y1="801.9" x2="821.19" y2="805.1" stroke="#3a3a3a" stroke-width="1.6" />
<line x1="838.3" y1="801.9" x2="838.3" y2="805.1" stroke="#3a3a3a" stroke-width="1.6" />
<line x1="855.4" y1="801.9" x2="855.4" y2="807.9" stroke="#3a3a3a" stroke-width="1.6" />
<text transform="translate(422.38,828.6)" fill="#1c1c1c" stroke="#1c1c1c" stroke-width="0.25"><tspan x="0" y="0" font-size="19.5">0</tspan></text>
<text transform="translate(488.83,832.6)" fill="#1c1c1c" stroke="#1c1c1c" stroke-width="0.25"><tspan x="0" y="0" font-size="19.5">1x10</tspan><tspan x="42.28" y="-11.5" font-size="11">5</tspan></text>
<text transform="translate(574.86,832.6)" fill="#1c1c1c" stroke="#1c1c1c" stroke-width="0.25"><tspan x="0" y="0" font-size="19.5">2x10</tspan><tspan x="42.28" y="-11.5" font-size="11">5</tspan></text>
<text transform="translate(660.62,832.6)" fill="#1c1c1c" stroke="#1c1c1c" stroke-width="0.25"><tspan x="0" y="0" font-size="19.5">3x10</tspan><tspan x="42.28" y="-11.5" font-size="11">5</tspan></text>
<text transform="translate(746.43,832.6)" fill="#1c1c1c" stroke="#1c1c1c" stroke-width="0.25"><tspan x="0" y="0" font-size="19.5">4x10</tspan><tspan x="42.28" y="-11.5" font-size="11">5</tspan></text>
<text transform="translate(831.62,832.6)" fill="#1c1c1c" stroke="#1c1c1c" stroke-width="0.25"><tspan x="0" y="0" font-size="19.5">5x10</tspan><tspan x="42.28" y="-11.5" font-size="11">5</tspan></text>
<line x1="427.8" y1="799.35" x2="424.3" y2="799.35" stroke="#3a3a3a" stroke-width="1.6" />
<line x1="427.8" y1="785.1" x2="424.3" y2="785.1" stroke="#3a3a3a" stroke-width="1.6" />
<line x1="427.8" y1="770.85" x2="424.3" y2="770.85" stroke="#3a3a3a" stroke-width="1.6" />
<line x1="427.8" y1="756.6" x2="421.8" y2="756.6" stroke="#3a3a3a" stroke-width="1.6" />
<line x1="427.8" y1="742.35" x2="424.3" y2="742.35" stroke="#3a3a3a" stroke-width="1.6" />
<line x1="427.8" y1="728.1" x2="424.3" y2="728.1" stroke="#3a3a3a" stroke-width="1.6" />
<line x1="427.8" y1="713.85" x2="424.3" y2="713.85" stroke="#3a3a3a" stroke-width="1.6" />
<line x1="427.8" y1="699.6" x2="424.3" y2="699.6" stroke="#3a3a3a" stroke-width="1.6" />
<line x1="427.8" y1="685.35" x2="424.3" y2="685.35" stroke="#3a3a3a" stroke-width="1.6" />
<line x1="427.8" y1="671.1" x2="421.8" y2="671.1" stroke="#3a3a3a" stroke-width="1.6" />
<line x1="427.8" y1="656.85" x2="424.3" y2="656.85" stroke="#3a3a3a" stroke-width="1.6" />
<line x1="427.8" y1="642.6" x2="424.3" y2="642.6" stroke="#3a3a3a" stroke-width="1.6" />
<line x1="427.8" y1="628.35" x2="424.3" y2="628.35" stroke="#3a3a3a" stroke-width="1.6" />
<line x1="427.8" y1="614.1" x2="424.3" y2="614.1" stroke="#3a3a3a" stroke-width="1.6" />
<line x1="427.8" y1="599.85" x2="424.3" y2="599.85" stroke="#3a3a3a" stroke-width="1.6" />
<line x1="427.8" y1="585.6" x2="421.8" y2="585.6" stroke="#3a3a3a" stroke-width="1.6" />
<line x1="427.8" y1="571.35" x2="424.3" y2="571.35" stroke="#3a3a3a" stroke-width="1.6" />
<line x1="427.8" y1="557.1" x2="424.3" y2="557.1" stroke="#3a3a3a" stroke-width="1.6" />
<line x1="427.8" y1="542.85" x2="424.3" y2="542.85" stroke="#3a3a3a" stroke-width="1.6" />
<line x1="427.8" y1="528.6" x2="424.3" y2="528.6" stroke="#3a3a3a" stroke-width="1.6" />
<line x1="427.8" y1="514.35" x2="424.3" y2="514.35" stroke="#3a3a3a" stroke-width="1.6" />
<line x1="427.8" y1="500.1" x2="421.8" y2="500.1" stroke="#3a3a3a" stroke-width="1.6" />
<line x1="427.8" y1="485.85" x2="424.3" y2="485.85" stroke="#3a3a3a" stroke-width="1.6" />
<line x1="427.8" y1="471.6" x2="424.3" y2="471.6" stroke="#3a3a3a" stroke-width="1.6" />
<text transform="translate(334.81,764.6)" fill="#1c1c1c" stroke="#1c1c1c" stroke-width="0.25"><tspan x="0" y="0" font-size="19.5">1.50x10</tspan><tspan x="69.39" y="-12" font-size="11">-4</tspan></text>
<text transform="translate(335.56,679.1)" fill="#1c1c1c" stroke="#1c1c1c" stroke-width="0.25"><tspan x="0" y="0" font-size="19.5">3.00x10</tspan><tspan x="69.39" y="-12" font-size="11">-4</tspan></text>
<text transform="translate(335.85,593.6)" fill="#1c1c1c" stroke="#1c1c1c" stroke-width="0.25"><tspan x="0" y="0" font-size="19.5">4.50x10</tspan><tspan x="69.39" y="-12" font-size="11">-4</tspan></text>
<text transform="translate(335.31,508.1)" fill="#1c1c1c" stroke="#1c1c1c" stroke-width="0.25"><tspan x="0" y="0" font-size="19.5">6.00x10</tspan><tspan x="69.39" y="-12" font-size="11">-4</tspan></text>
<text transform="translate(325.4,664.89) rotate(-90) scale(1.12,1)" fill="#1c1c1c" stroke="#1c1c1c" stroke-width="0.25"><tspan x="0" y="0" font-size="17.5">1/</tspan><tspan x="14.59" y="-1.5" font-size="13.5">(</tspan><tspan x="19.09" y="0" font-size="17.5">F</tspan><tspan x="29.78" y="6" font-size="13.5">0</tspan><tspan x="37.29" y="0" font-size="17.5">-F</tspan><tspan x="53.81" y="-1.5" font-size="13.5">)</tspan></text>
<text transform="translate(605.14,864.8)" fill="#1c1c1c" stroke="#1c1c1c" stroke-width="0.25"><tspan x="0" y="0" font-size="17.81">1/</tspan></text>
<text transform="translate(620.84,864.6)" fill="#1c1c1c"><tspan x="0" y="0" font-size="13.5">[</tspan></text>
<text transform="translate(625.04,864.8)" fill="#1c1c1c" stroke="#1c1c1c" stroke-width="0.25"><tspan x="0" y="0" font-size="19.03">Fe</tspan></text>
<text transform="translate(648.71,857)" fill="#1c1c1c" stroke="#1c1c1c" stroke-width="0.25"><tspan x="0" y="0" font-size="18.24">3+</tspan></text>
<text transform="translate(670.41,864.6)" fill="#1c1c1c"><tspan x="0" y="0" font-size="13.5">]</tspan></text>
<text transform="translate(619.69,895.6) scale(0.74,1)" fill="#1c1c1c" stroke="#1c1c1c" stroke-width="0.7"><tspan x="0" y="0" font-size="28.5">(</tspan></text>
<text transform="translate(628.74,896.6) scale(0.9,1)" fill="#1c1c1c" stroke="#1c1c1c" stroke-width="0.6"><tspan x="0" y="0" font-size="25">c</tspan></text>
<text transform="translate(642.08,895.6) scale(0.74,1)" fill="#1c1c1c" stroke="#1c1c1c" stroke-width="0.7"><tspan x="0" y="0" font-size="28.5">)</tspan></text>
<text transform="translate(449.15,499.7)" fill="#1c1c1c" stroke="#1c1c1c" stroke-width="0.25"><tspan x="0" y="0" font-size="20">y= a + bx</tspan></text>
<text transform="translate(448.35,524)" fill="#1c1c1c" stroke="#1c1c1c" stroke-width="0.25"><tspan x="0" y="0" font-size="20">a= 5.94213E-5</tspan></text>
<text transform="translate(447.91,547.9)" fill="#1c1c1c" stroke="#1c1c1c" stroke-width="0.25"><tspan x="0" y="0" font-size="20">b= 1.10234E-9</tspan></text>
<text transform="translate(447.56,581.8)" fill="#1c1c1c" stroke="#1c1c1c" stroke-width="0.25"><tspan x="0" y="0" font-size="20">R</tspan><tspan x="14.44" y="-9" font-size="16">2</tspan><tspan x="23.34" y="0" font-size="20">= 0.99231</tspan></text>
<text transform="translate(447.56,605.7)" fill="#1c1c1c" stroke="#1c1c1c" stroke-width="0.25"><tspan x="0" y="0" font-size="20">K= a/b = 5.39E+4</tspan></text>
<line x1="456.3" y1="787.3" x2="855.4" y2="494.1" stroke="#d83a3a" stroke-width="1.4"/>
<circle cx="855.4" cy="484.4" r="4.2" fill="#111"/>
<circle cx="641.6" cy="658.8" r="4.2" fill="#111"/>
<circle cx="570.3" cy="711.7" r="4.2" fill="#111"/>
<circle cx="534.7" cy="735.5" r="4.2" fill="#111"/>
<circle cx="513.3" cy="754.3" r="4.2" fill="#111"/>
<circle cx="499.1" cy="763.2" r="4.2" fill="#111"/>
<circle cx="488.9" cy="768.0" r="4.2" fill="#111"/>
<circle cx="481.2" cy="771.1" r="4.2" fill="#111"/>
<circle cx="475.3" cy="773.1" r="4.2" fill="#111"/>
<circle cx="470.6" cy="774.8" r="4.2" fill="#111"/>
<circle cx="466.7" cy="776.0" r="4.2" fill="#111"/>
<circle cx="463.4" cy="776.8" r="4.2" fill="#111"/>
<circle cx="460.7" cy="777.7" r="4.2" fill="#111"/>
<circle cx="458.3" cy="778.3" r="4.2" fill="#111"/>
<circle cx="456.3" cy="778.5" r="4.2" fill="#111"/>
</svg></body></html>
